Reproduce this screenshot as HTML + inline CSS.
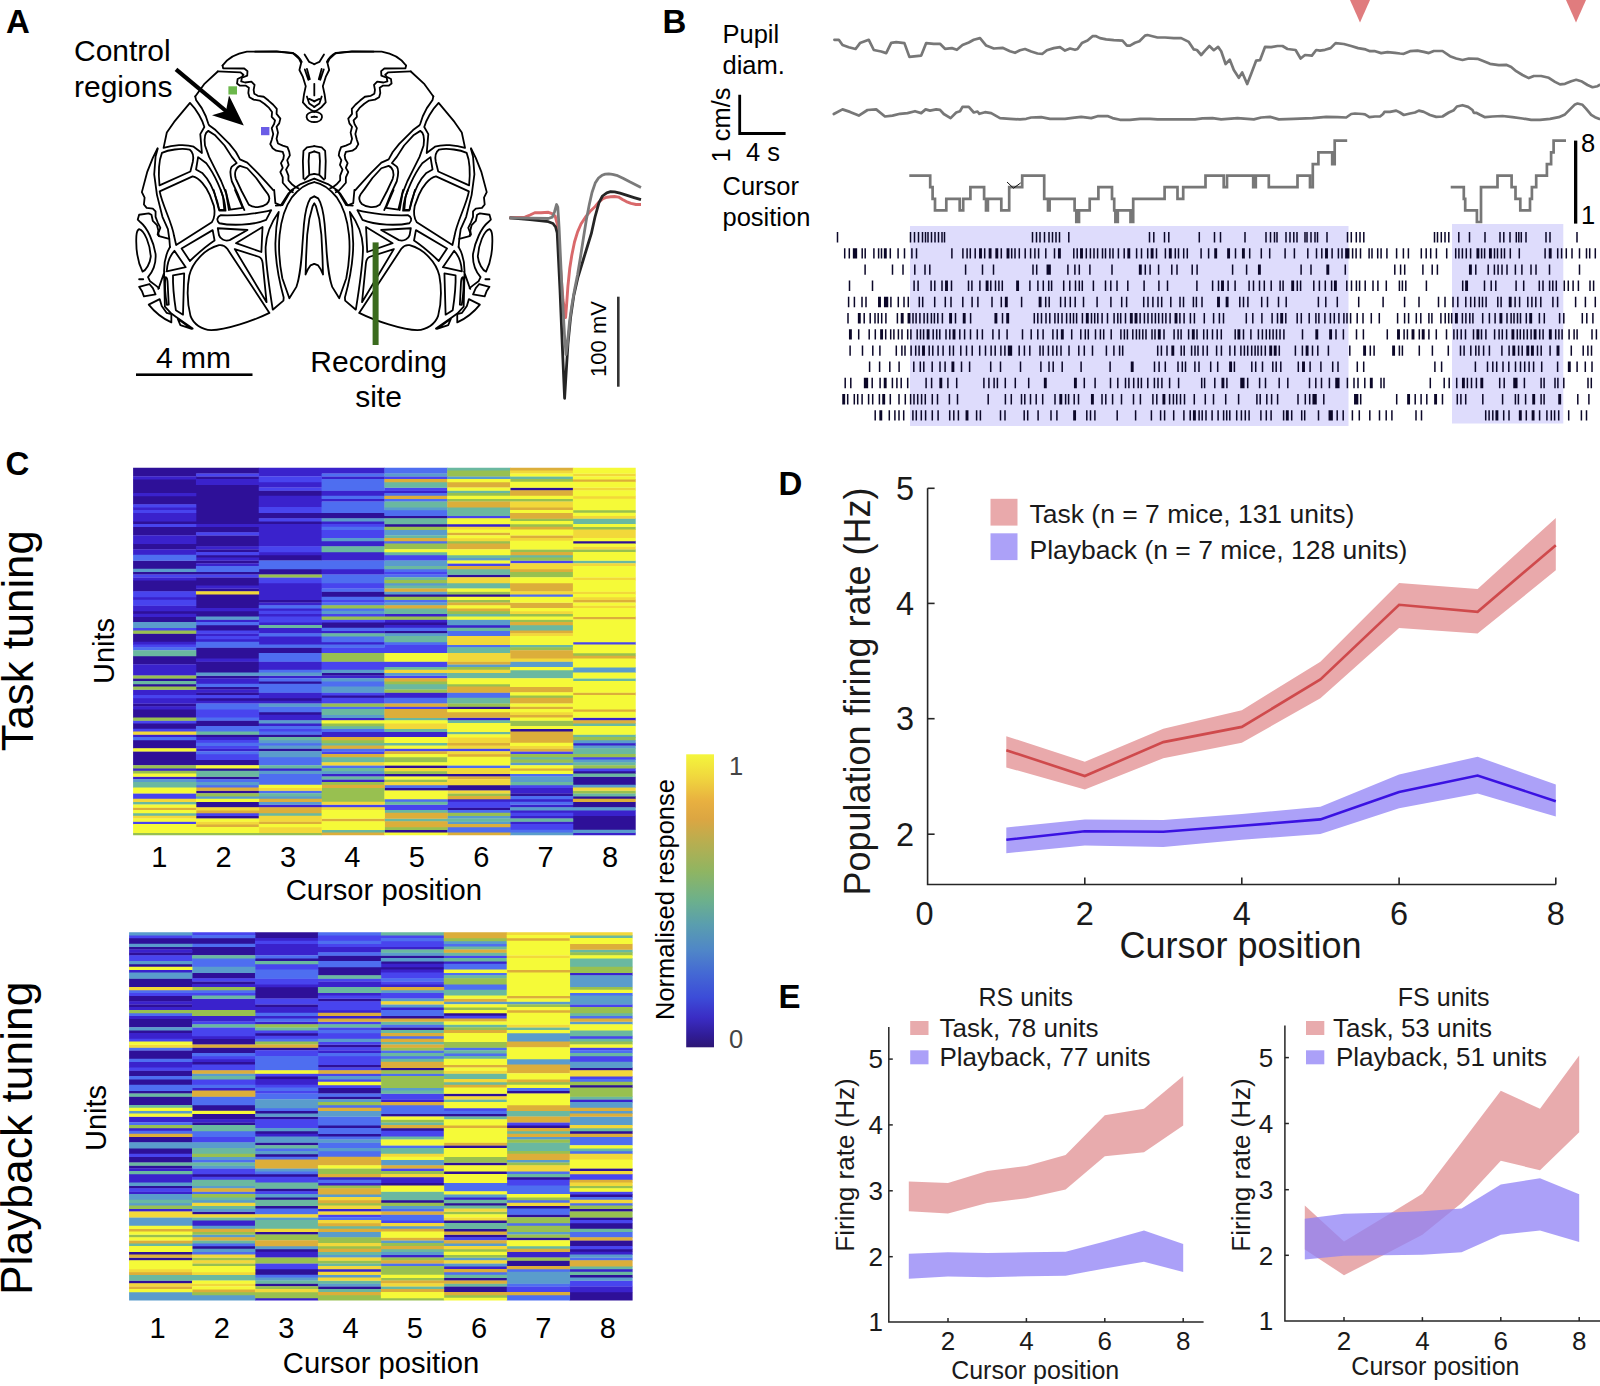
<!DOCTYPE html>
<html><head><meta charset="utf-8"><title>Figure</title>
<style>html,body{margin:0;padding:0;background:#fff}svg{display:block}text{font-family:"Liberation Sans", sans-serif}</style></head>
<body><svg width="1600" height="1386" viewBox="0 0 1600 1386">
<rect width="1600" height="1386" fill="#fff"/>
<text x="6" y="33" font-size="33" text-anchor="start" font-weight="bold" fill="#000">A</text>
<text x="662.5" y="32.5" font-size="33" text-anchor="start" font-weight="bold" fill="#000">B</text>
<text x="5.5" y="475" font-size="33" text-anchor="start" font-weight="bold" fill="#000">C</text>
<text x="778.5" y="495.3" font-size="33" text-anchor="start" font-weight="bold" fill="#000">D</text>
<text x="778.5" y="1007.5" font-size="33" text-anchor="start" font-weight="bold" fill="#000">E</text>
<text x="74" y="60.5" font-size="30" text-anchor="start" font-weight="normal" fill="#000">Control</text>
<text x="74" y="97" font-size="30" text-anchor="start" font-weight="normal" fill="#000">regions</text>
<text x="193.5" y="368" font-size="30" text-anchor="middle" font-weight="normal" fill="#000">4 mm</text>
<rect x="136" y="373.4" width="116.5" height="2.6" fill="#000"/>
<text x="378.7" y="371.7" font-size="30" text-anchor="middle" font-weight="normal" fill="#000">Recording</text>
<text x="378.5" y="407.4" font-size="30" text-anchor="middle" font-weight="normal" fill="#000">site</text>
<path d="M176,69.4 L232,116" stroke="#000" stroke-width="4.2" fill="none"/>
<path d="M243.8,125.6 L212,115.3 L226,111 L229,95.6 Z" fill="#000"/>
<text x="605.5" y="339" font-size="22" text-anchor="middle" font-weight="normal" fill="#000" transform="rotate(-90 605.5 339)">100 mV</text>
<rect x="617" y="296.7" width="2.6" height="90" fill="#333"/>
<path d="M509.5,217.8 L525.0,217.2 L530.0,215.0 L534.8,212.7 L541.0,212.8 L548.4,212.3 L552.0,213.6 L555.2,216.2 L557.2,224.0 L560.0,262.0 L563.0,300.0 L565.6,317.5 L566.6,305.0 L567.9,286.3 L569.8,268.0 L571.8,255.2 L574.5,242.0 L577.6,231.8 L581.0,224.0 L585.4,217.2 L590.0,211.5 L595.2,206.5 L599.0,202.0 L603.0,198.7 L607.0,197.2 L610.7,196.7 L614.5,196.5 L618.5,197.1 L622.5,199.5 L626.3,201.6 L631.0,203.4 L636.0,204.5 L641.0,204.5" stroke="#d9696b" stroke-width="2.9" fill="none" stroke-linejoin="round"/>
<path d="M509.5,217.8 L530.0,219.5 L548.4,221.7 L553.0,223.5 L555.6,227.0 L557.2,233.0 L560.0,290.0 L562.5,350.0 L564.6,398.3 L566.2,372.0 L567.9,344.7 L570.5,318.0 L573.7,296.0 L578.0,277.0 L583.5,259.0 L587.5,246.0 L591.3,233.7 L595.0,217.0 L599.0,202.6 L602.5,196.0 L606.8,192.8 L610.5,191.7 L614.6,191.9 L620.0,193.2 L626.3,195.2 L634.0,197.6 L641.0,199.7" stroke="#252525" stroke-width="2.8" fill="none" stroke-linejoin="round"/>
<path d="M509.5,217.8 L530.0,218.2 L548.4,218.5 L552.3,217.2 L554.5,212.0 L556.6,204.5 L557.8,207.0 L559.1,227.9 L562.0,290.0 L564.5,335.0 L566.0,354.5 L567.3,345.0 L569.5,322.0 L571.8,305.8 L574.5,290.0 L577.6,274.6 L580.5,257.0 L583.5,237.6 L586.3,220.0 L589.3,204.5 L592.0,192.5 L595.2,183.1 L598.5,178.0 L602.0,175.3 L605.3,174.1 L608.8,173.8 L612.5,174.3 L616.6,175.3 L623.0,178.3 L630.2,182.1 L641.0,187.4" stroke="#7a7a7a" stroke-width="2.8" fill="none" stroke-linejoin="round"/>
<g fill="none" stroke="#000" stroke-linejoin="round" stroke-linecap="round">
<path transform="translate(140,40) scale(0.11875)" d="M695,215 C730,165 800,115 900,98 L1150,95 L1285,108 C1320,125 1345,150 1362,185" stroke-width="15.16"/>
<path transform="translate(140,40) scale(0.11875)" d="M695,215 L700,238 L878,240 L905,262 L903,300 L858,318 L852,348 L885,358 L938,350 L965,378 L957,420 L962,452 L992,470 L1042,478 L1082,510 L1122,545 L1152,580 L1150,622 L1182,662 L1172,702 L1150,730 L1162,780 L1150,832 L1162,872 L1202,890 L1242,902 L1257,942 L1262,972 L1240,1012 L1252,1052 L1230,1092 L1250,1142 L1250,1182 L1282,1217 L1312,1240 L1335,1250" stroke-width="15.16"/>
<path transform="translate(140,40) scale(0.11875)" d="M655,265 L845,272 L871,292 L859,310 L822,329 L817,367 L842,385 L892,385 L917,402 L912,447 L922,482 L957,502 L1007,510 L1047,537 L1087,572 L1112,607 L1109,647 L1137,677 L1129,707 L1109,742 L1122,792 L1109,842 L1097,877 L1117,912 L1147,932 L1202,942 L1212,972 L1207,1002 L1187,1037 L1202,1077 L1182,1112 L1202,1157 L1202,1202 L1237,1242 L1262,1269 L1287,1282" stroke-width="15.16"/>
<path transform="translate(140,40) scale(0.11875)" d="M655,265 L540,372 L465,475" stroke-width="15.16"/>
<path transform="translate(140,100) scale(0.08125)" d="M615,35 L420,270 L330,400 L290,590 C400,555 560,540 660,575 L762,652 L742,420 L792,332 C770,250 700,120 615,35Z" stroke-width="22.15"/>
<path transform="translate(140,100) scale(0.08125)" d="M680,-44 L690,0 L760,100 L810,200 L840,290 L850,310 L930,370 L1100,540 L1180,640 L1230,730 L1320,770 L1450,900 L1560,1020 L1640,1110" stroke-width="22.15"/>
<path transform="translate(140,100) scale(0.08125)" d="M840,380 C800,400 788,470 800,560 L850,700 L930,860 L1000,1000 L1060,1150 L1095,1354 M840,380 L920,430 L1040,560 L1130,700 L1190,775 L1130,820 C1105,850 1105,900 1130,1000 L1200,1150 L1260,1300 L1285,1354" stroke-width="22.15"/>
<path transform="translate(140,100) scale(0.08125)" d="M1230,810 C1180,830 1155,900 1180,970 L1250,1120 L1340,1290 C1400,1335 1500,1325 1560,1280 C1600,1240 1600,1200 1575,1160 L1530,1100 L1430,960 L1320,840 Z" stroke-width="22.15"/>
<path transform="translate(140,100) scale(0.08125)" d="M270,650 C350,615 500,590 610,610 C650,640 662,700 650,760 L620,880 L240,1050 C225,900 235,740 270,650Z" stroke-width="22.15"/>
<path transform="translate(135,140) scale(0.13717)" d="M180,375 L420,265 C470,275 520,340 545,400 L575,480 C585,530 580,570 560,600 L300,765 L285,700 C270,600 200,480 180,375Z" stroke-width="13.12"/>
<path transform="translate(135,140) scale(0.13717)" d="M460,125 L445,215 L490,240 C540,290 580,380 600,450 L615,515 L660,515 L655,470 C640,380 580,250 520,170 Z" stroke-width="13.12"/>
<path transform="translate(135,140) scale(0.13717)" d="M165,60 L130,130 L90,230 L50,380 L70,420 L65,470 L85,495 L130,500 L150,520 L150,560 L165,600 L185,640 L170,680 L175,700 L250,720 L255,780" stroke-width="13.12"/>
<path transform="translate(135,140) scale(0.13717)" d="M165,65 L150,120 L140,250 L160,400 L200,560 L240,650 L250,720" stroke-width="13.12"/>
<path transform="translate(135,140) scale(0.13717)" d="M175,700 L165,690 L170,660 L160,620 L130,590 L120,545 L100,535 L30,545 L20,580 L40,600 C90,640 135,740 150,830 C155,900 130,960 95,1000 L110,1030 L150,1060 L175,1080" stroke-width="13.12"/>
<path transform="translate(135,140) scale(0.13717)" d="M30,650 C70,660 110,760 115,850 C110,900 80,950 55,960 C25,900 5,800 10,700 C12,670 20,655 30,650Z" stroke-width="13.12"/>
<path transform="translate(135,140) scale(0.13717)" d="M30,1015 L60,1015 M30,1070 L105,1050 L130,1080 L150,1125 L65,1140 L50,1100 Z" stroke-width="13.12"/>
<path transform="translate(135,140) scale(0.13717)" d="M100,1200 L180,1160 L195,1210 L230,1260 L265,1270 L265,1330 C200,1300 140,1250 100,1200Z" stroke-width="13.12"/>
<path transform="translate(135,140) scale(0.13717)" d="M255,780 C225,830 210,900 212,970 L218,1215 L265,1265 L300,1290 L420,1375 M215,960 L180,1060 L170,1085" stroke-width="13.12"/>
<path transform="translate(140,190) scale(0.11875)" d="M665,465 C540,500 440,610 415,720 C395,830 400,960 425,1060 C450,1130 520,1175 600,1180 C720,1180 960,1100 1090,1035 L735,495 C715,470 690,460 665,465Z" stroke-width="15.16"/>
<path transform="translate(140,190) scale(0.11875)" d="M798,498 L1000,562 C1022,572 1030,590 1033,615 L1066,945 Z" stroke-width="15.16"/>
<path transform="translate(140,190) scale(0.11875)" d="M808,448 L1032,312 L1022,522 Z" stroke-width="15.16"/>
<path transform="translate(140,190) scale(0.11875)" d="M655,322 L905,337 L755,422 C710,435 675,410 665,380 Z" stroke-width="15.16"/>
<path transform="translate(140,190) scale(0.11875)" d="M680,212 C800,218 1000,200 1105,170 L1062,252 C950,300 760,300 668,280 C640,255 650,225 680,212Z" stroke-width="15.16"/>
<path transform="translate(140,190) scale(0.11875)" d="M350,492 L612,338 L628,425 C560,470 480,540 420,598 Z" stroke-width="15.16"/>
<path transform="translate(140,190) scale(0.11875)" d="M290,512 L385,650 L225,685 C230,600 255,550 290,512Z" stroke-width="15.16"/>
<path transform="translate(140,190) scale(0.11875)" d="M278,718 L372,702 L362,1050 L302,1012 C285,900 275,800 278,718Z" stroke-width="15.16"/>
<path transform="translate(140,190) scale(0.11875)" d="M213,735 C228,730 232,760 233,790 L242,965 L226,968 C212,880 208,790 213,735Z" stroke-width="15.16"/>
<path transform="translate(140,190) scale(0.11875)" d="M318,1085 L435,1170 L340,1138 Z" stroke-width="15.16"/>
<path transform="translate(140,190) scale(0.11875)" d="M1168,185 C1100,280 1062,380 1058,480 C1055,600 1085,800 1118,1008 L1208,932 L1210,905 C1170,760 1140,600 1140,450 C1142,340 1155,250 1168,185Z" stroke-width="15.16"/>
<path transform="translate(140,190) scale(0.11875)" d="M620,0 L665,165 L710,170 L700,60 L680,0 M720,0 L760,165 L865,150 L800,0 M1130,0 L1140,110 L1185,130 L1250,30 L1290,0" stroke-width="15.16"/>
<path transform="translate(265,170) scale(0.10823)" d="M225,1185 L160,1000 C135,870 125,700 135,600 C150,450 200,320 250,250 C300,190 380,125 455,112 M225,1185 L290,1080 C320,1000 340,800 345,700 L360,500 C370,400 395,300 420,262 L455,244" stroke-width="16.63"/>
<path transform="translate(265,170) scale(0.10823)" d="M375,965 L380,800 L390,600 L410,450 L440,335 L455,310 M375,965 L395,920 L420,882 L455,868" stroke-width="16.63"/>
<path transform="translate(265,170) scale(0.10823)" d="M100,330 L160,325 L240,190 L330,130 L455,80" stroke-width="16.63"/>
<path transform="translate(255,40) scale(0.11538)" d="M0,100 L190,100 L330,115 L380,160 L400,200 L385,260 L415,320 L440,400 L425,470 L415,540 L450,580 L490,610 L516,620" stroke-width="15.60"/>
<path transform="translate(255,40) scale(0.11538)" d="M430,125 L470,190 L516,210 M450,250 L475,340 M432,255 L462,345 M450,490 L470,550 L516,580 M470,510 L516,532" stroke-width="15.60"/>
<path transform="translate(255,40) scale(0.11538)" d="M516,620 C470,625 445,645 447,668 C450,695 480,712 516,712 M490,668 L516,664" stroke-width="15.60"/>
<path transform="translate(255,40) scale(0.11538)" d="M420,1200 L415,1050 L420,960 L450,930 L516,920 M430,1210 L470,1170 L465,1050 L470,980 L516,965 M470,1170 L516,1160" stroke-width="15.60"/>
<path transform="translate(628.6,0) scale(-1,1) translate(140,40) scale(0.11875)" d="M695,215 C730,165 800,115 900,98 L1150,95 L1285,108 C1320,125 1345,150 1362,185" stroke-width="15.16"/>
<path transform="translate(628.6,0) scale(-1,1) translate(140,40) scale(0.11875)" d="M695,215 L700,238 L878,240 L905,262 L903,300 L858,318 L852,348 L885,358 L938,350 L965,378 L957,420 L962,452 L992,470 L1042,478 L1082,510 L1122,545 L1152,580 L1150,622 L1182,662 L1172,702 L1150,730 L1162,780 L1150,832 L1162,872 L1202,890 L1242,902 L1257,942 L1262,972 L1240,1012 L1252,1052 L1230,1092 L1250,1142 L1250,1182 L1282,1217 L1312,1240 L1335,1250" stroke-width="15.16"/>
<path transform="translate(628.6,0) scale(-1,1) translate(140,40) scale(0.11875)" d="M655,265 L845,272 L871,292 L859,310 L822,329 L817,367 L842,385 L892,385 L917,402 L912,447 L922,482 L957,502 L1007,510 L1047,537 L1087,572 L1112,607 L1109,647 L1137,677 L1129,707 L1109,742 L1122,792 L1109,842 L1097,877 L1117,912 L1147,932 L1202,942 L1212,972 L1207,1002 L1187,1037 L1202,1077 L1182,1112 L1202,1157 L1202,1202 L1237,1242 L1262,1269 L1287,1282" stroke-width="15.16"/>
<path transform="translate(628.6,0) scale(-1,1) translate(140,40) scale(0.11875)" d="M655,265 L540,372 L465,475" stroke-width="15.16"/>
<path transform="translate(628.6,0) scale(-1,1) translate(140,100) scale(0.08125)" d="M615,35 L420,270 L330,400 L290,590 C400,555 560,540 660,575 L762,652 L742,420 L792,332 C770,250 700,120 615,35Z" stroke-width="22.15"/>
<path transform="translate(628.6,0) scale(-1,1) translate(140,100) scale(0.08125)" d="M680,-44 L690,0 L760,100 L810,200 L840,290 L850,310 L930,370 L1100,540 L1180,640 L1230,730 L1320,770 L1450,900 L1560,1020 L1640,1110" stroke-width="22.15"/>
<path transform="translate(628.6,0) scale(-1,1) translate(140,100) scale(0.08125)" d="M840,380 C800,400 788,470 800,560 L850,700 L930,860 L1000,1000 L1060,1150 L1095,1354 M840,380 L920,430 L1040,560 L1130,700 L1190,775 L1130,820 C1105,850 1105,900 1130,1000 L1200,1150 L1260,1300 L1285,1354" stroke-width="22.15"/>
<path transform="translate(628.6,0) scale(-1,1) translate(140,100) scale(0.08125)" d="M1230,810 C1180,830 1155,900 1180,970 L1250,1120 L1340,1290 C1400,1335 1500,1325 1560,1280 C1600,1240 1600,1200 1575,1160 L1530,1100 L1430,960 L1320,840 Z" stroke-width="22.15"/>
<path transform="translate(628.6,0) scale(-1,1) translate(140,100) scale(0.08125)" d="M270,650 C350,615 500,590 610,610 C650,640 662,700 650,760 L620,880 L240,1050 C225,900 235,740 270,650Z" stroke-width="22.15"/>
<path transform="translate(628.6,0) scale(-1,1) translate(135,140) scale(0.13717)" d="M180,375 L420,265 C470,275 520,340 545,400 L575,480 C585,530 580,570 560,600 L300,765 L285,700 C270,600 200,480 180,375Z" stroke-width="13.12"/>
<path transform="translate(628.6,0) scale(-1,1) translate(135,140) scale(0.13717)" d="M460,125 L445,215 L490,240 C540,290 580,380 600,450 L615,515 L660,515 L655,470 C640,380 580,250 520,170 Z" stroke-width="13.12"/>
<path transform="translate(628.6,0) scale(-1,1) translate(135,140) scale(0.13717)" d="M165,60 L130,130 L90,230 L50,380 L70,420 L65,470 L85,495 L130,500 L150,520 L150,560 L165,600 L185,640 L170,680 L175,700 L250,720 L255,780" stroke-width="13.12"/>
<path transform="translate(628.6,0) scale(-1,1) translate(135,140) scale(0.13717)" d="M165,65 L150,120 L140,250 L160,400 L200,560 L240,650 L250,720" stroke-width="13.12"/>
<path transform="translate(628.6,0) scale(-1,1) translate(135,140) scale(0.13717)" d="M175,700 L165,690 L170,660 L160,620 L130,590 L120,545 L100,535 L30,545 L20,580 L40,600 C90,640 135,740 150,830 C155,900 130,960 95,1000 L110,1030 L150,1060 L175,1080" stroke-width="13.12"/>
<path transform="translate(628.6,0) scale(-1,1) translate(135,140) scale(0.13717)" d="M30,650 C70,660 110,760 115,850 C110,900 80,950 55,960 C25,900 5,800 10,700 C12,670 20,655 30,650Z" stroke-width="13.12"/>
<path transform="translate(628.6,0) scale(-1,1) translate(135,140) scale(0.13717)" d="M30,1015 L60,1015 M30,1070 L105,1050 L130,1080 L150,1125 L65,1140 L50,1100 Z" stroke-width="13.12"/>
<path transform="translate(628.6,0) scale(-1,1) translate(135,140) scale(0.13717)" d="M100,1200 L180,1160 L195,1210 L230,1260 L265,1270 L265,1330 C200,1300 140,1250 100,1200Z" stroke-width="13.12"/>
<path transform="translate(628.6,0) scale(-1,1) translate(135,140) scale(0.13717)" d="M255,780 C225,830 210,900 212,970 L218,1215 L265,1265 L300,1290 L420,1375 M215,960 L180,1060 L170,1085" stroke-width="13.12"/>
<path transform="translate(628.6,0) scale(-1,1) translate(140,190) scale(0.11875)" d="M665,465 C540,500 440,610 415,720 C395,830 400,960 425,1060 C450,1130 520,1175 600,1180 C720,1180 960,1100 1090,1035 L735,495 C715,470 690,460 665,465Z" stroke-width="15.16"/>
<path transform="translate(628.6,0) scale(-1,1) translate(140,190) scale(0.11875)" d="M798,498 L1000,562 C1022,572 1030,590 1033,615 L1066,945 Z" stroke-width="15.16"/>
<path transform="translate(628.6,0) scale(-1,1) translate(140,190) scale(0.11875)" d="M808,448 L1032,312 L1022,522 Z" stroke-width="15.16"/>
<path transform="translate(628.6,0) scale(-1,1) translate(140,190) scale(0.11875)" d="M655,322 L905,337 L755,422 C710,435 675,410 665,380 Z" stroke-width="15.16"/>
<path transform="translate(628.6,0) scale(-1,1) translate(140,190) scale(0.11875)" d="M680,212 C800,218 1000,200 1105,170 L1062,252 C950,300 760,300 668,280 C640,255 650,225 680,212Z" stroke-width="15.16"/>
<path transform="translate(628.6,0) scale(-1,1) translate(140,190) scale(0.11875)" d="M350,492 L612,338 L628,425 C560,470 480,540 420,598 Z" stroke-width="15.16"/>
<path transform="translate(628.6,0) scale(-1,1) translate(140,190) scale(0.11875)" d="M290,512 L385,650 L225,685 C230,600 255,550 290,512Z" stroke-width="15.16"/>
<path transform="translate(628.6,0) scale(-1,1) translate(140,190) scale(0.11875)" d="M278,718 L372,702 L362,1050 L302,1012 C285,900 275,800 278,718Z" stroke-width="15.16"/>
<path transform="translate(628.6,0) scale(-1,1) translate(140,190) scale(0.11875)" d="M213,735 C228,730 232,760 233,790 L242,965 L226,968 C212,880 208,790 213,735Z" stroke-width="15.16"/>
<path transform="translate(628.6,0) scale(-1,1) translate(140,190) scale(0.11875)" d="M318,1085 L435,1170 L340,1138 Z" stroke-width="15.16"/>
<path transform="translate(628.6,0) scale(-1,1) translate(140,190) scale(0.11875)" d="M1168,185 C1100,280 1062,380 1058,480 C1055,600 1085,800 1118,1008 L1208,932 L1210,905 C1170,760 1140,600 1140,450 C1142,340 1155,250 1168,185Z" stroke-width="15.16"/>
<path transform="translate(628.6,0) scale(-1,1) translate(140,190) scale(0.11875)" d="M620,0 L665,165 L710,170 L700,60 L680,0 M720,0 L760,165 L865,150 L800,0 M1130,0 L1140,110 L1185,130 L1250,30 L1290,0" stroke-width="15.16"/>
<path transform="translate(628.6,0) scale(-1,1) translate(265,170) scale(0.10823)" d="M225,1185 L160,1000 C135,870 125,700 135,600 C150,450 200,320 250,250 C300,190 380,125 455,112 M225,1185 L290,1080 C320,1000 340,800 345,700 L360,500 C370,400 395,300 420,262 L455,244" stroke-width="16.63"/>
<path transform="translate(628.6,0) scale(-1,1) translate(265,170) scale(0.10823)" d="M375,965 L380,800 L390,600 L410,450 L440,335 L455,310 M375,965 L395,920 L420,882 L455,868" stroke-width="16.63"/>
<path transform="translate(628.6,0) scale(-1,1) translate(265,170) scale(0.10823)" d="M100,330 L160,325 L240,190 L330,130 L455,80" stroke-width="16.63"/>
<path transform="translate(628.6,0) scale(-1,1) translate(255,40) scale(0.11538)" d="M0,100 L190,100 L330,115 L380,160 L400,200 L385,260 L415,320 L440,400 L425,470 L415,540 L450,580 L490,610 L516,620" stroke-width="15.60"/>
<path transform="translate(628.6,0) scale(-1,1) translate(255,40) scale(0.11538)" d="M430,125 L470,190 L516,210 M450,250 L475,340 M432,255 L462,345 M450,490 L470,550 L516,580 M470,510 L516,532" stroke-width="15.60"/>
<path transform="translate(628.6,0) scale(-1,1) translate(255,40) scale(0.11538)" d="M516,620 C470,625 445,645 447,668 C450,695 480,712 516,712 M490,668 L516,664" stroke-width="15.60"/>
<path transform="translate(628.6,0) scale(-1,1) translate(255,40) scale(0.11538)" d="M420,1200 L415,1050 L420,960 L450,930 L516,920 M430,1210 L470,1170 L465,1050 L470,980 L516,965 M470,1170 L516,1160" stroke-width="15.60"/>
<path transform="translate(255,40) scale(0.11538)" d="M514,380 L514,480" stroke-width="15.60"/>
</g>
<rect x="372.6" y="242.4" width="6" height="102.6" fill="#3b6b1e"/>
<rect x="228.4" y="86.3" width="8.6" height="8.2" fill="#6cb84c"/>
<rect x="261" y="127" width="8.4" height="8.2" fill="#6a5ce6"/>
<text x="722.5" y="42.75" font-size="25.5" text-anchor="start" font-weight="normal" fill="#000">Pupil</text>
<text x="722.5" y="74" font-size="25.5" text-anchor="start" font-weight="normal" fill="#000">diam.</text>
<text x="722.5" y="195" font-size="25.5" text-anchor="start" font-weight="normal" fill="#000">Cursor</text>
<text x="722.5" y="226" font-size="25.5" text-anchor="start" font-weight="normal" fill="#000">position</text>
<text x="746" y="161" font-size="25.5" text-anchor="start" font-weight="normal" fill="#000">4 s</text>
<text x="729.5" y="162.5" font-size="25.5" text-anchor="start" font-weight="normal" fill="#000" transform="rotate(-90 729.5 162.5)">1 cm/s</text>
<path d="M739.7,94.7 V133.5 H785.6" stroke="#000" stroke-width="2.8" fill="none"/>
<path d="M1350,0 L1370,0 L1360,22.5 Z" fill="#e07c7e"/>
<path d="M1566,0 L1586,0 L1576,22.5 Z" fill="#e07c7e"/>
<path d="M834.4,39.8 L838.8,39.8 L842.5,45.0 L848.8,47.2 L855.6,49.0 L860.0,43.1 L868.8,39.8 L873.8,50.0 L881.2,51.5 L886.2,53.1 L891.2,42.8 L896.2,42.2 L904.4,43.1 L909.4,56.9 L921.2,55.6 L926.2,43.1 L933.8,43.8 L940.0,43.8 L945.0,48.8 L951.9,48.1 L956.9,49.8 L962.5,45.0 L968.8,42.5 L973.8,39.8 L980.0,38.1 L986.2,45.6 L993.8,48.5 L1002.5,47.8 L1010.0,51.2 L1015.0,52.8 L1020.0,50.2 L1025.0,49.0 L1031.2,51.5 L1037.5,53.5 L1042.5,53.8 L1046.9,50.2 L1053.8,48.1 L1060.0,47.2 L1065.0,50.6 L1070.0,48.5 L1075.0,49.8 L1077.5,49.0 L1081.9,43.1 L1087.5,40.6 L1092.5,36.2 L1095.6,36.0 L1100.0,38.1 L1106.2,39.4 L1113.8,40.2 L1122.5,40.6 L1126.9,45.6 L1130.0,45.6 L1135.0,42.8 L1139.4,41.2 L1145.0,35.6 L1147.5,35.0 L1152.5,36.2 L1157.5,37.5 L1165.0,37.5 L1173.8,38.1 L1181.2,38.1 L1188.8,41.9 L1193.8,49.4 L1196.9,50.0 L1201.2,55.0 L1205.0,50.6 L1209.4,46.0 L1213.8,50.2 L1218.1,46.9 L1221.2,51.2 L1225.6,64.0 L1229.8,59.8 L1233.8,70.0 L1238.8,77.8 L1242.2,72.5 L1247.2,84.0 L1251.2,73.8 L1256.2,60.6 L1260.0,60.2 L1265.0,46.9 L1271.2,47.2 L1277.5,46.0 L1282.5,46.0 L1287.5,49.0 L1295.6,50.0 L1300.6,58.5 L1305.0,55.0 L1311.9,55.6 L1316.2,50.0 L1320.0,50.6 L1325.0,49.8 L1330.6,48.1 L1335.6,43.1 L1343.8,44.0 L1351.2,46.0 L1358.1,48.1 L1365.6,49.4 L1370.0,51.2 L1374.4,51.0 L1381.2,53.1 L1387.5,52.2 L1395.0,52.8 L1400.0,53.5 L1403.8,53.8 L1410.0,51.2 L1417.5,50.6 L1423.8,51.9 L1428.8,53.1 L1433.8,51.0 L1442.5,51.0 L1450.0,56.2 L1456.2,58.5 L1462.5,60.0 L1468.8,58.5 L1477.5,58.8 L1483.8,61.2 L1490.0,63.8 L1498.8,65.2 L1506.2,64.8 L1511.2,66.9 L1516.2,71.2 L1522.5,75.0 L1528.8,78.1 L1533.8,76.0 L1541.2,76.0 L1548.8,77.8 L1555.0,81.9 L1560.0,84.4 L1565.0,83.8 L1571.2,81.2 L1576.2,79.8 L1581.2,81.2 L1587.5,85.0 L1592.5,87.2 L1597.5,86.2 L1599.5,85.0" stroke="#777" stroke-width="2.7" fill="none" stroke-linejoin="round" stroke-linecap="round"/>
<path d="M833.8,114.0 L842.5,109.4 L850.0,111.9 L858.8,115.6 L867.5,110.0 L876.2,109.4 L885.0,116.5 L892.5,115.6 L900.0,113.8 L907.5,113.1 L915.0,111.2 L921.2,113.1 L925.6,109.4 L930.0,110.6 L936.2,109.4 L940.0,109.8 L943.8,114.0 L950.6,118.1 L956.2,112.5 L960.0,111.2 L962.5,106.9 L968.8,106.9 L973.8,112.5 L977.5,111.5 L979.4,113.8 L985.0,112.2 L991.2,113.1 L1000.0,118.1 L1010.0,118.8 L1020.0,119.4 L1026.2,118.8 L1031.2,117.5 L1041.2,117.2 L1050.0,118.8 L1065.0,118.8 L1072.5,117.8 L1081.2,116.9 L1091.2,118.1 L1097.5,116.2 L1107.5,116.0 L1112.5,118.1 L1120.0,119.8 L1130.0,119.8 L1140.0,118.8 L1150.0,118.8 L1157.5,119.4 L1170.0,119.4 L1195.0,119.4 L1202.5,118.4 L1212.5,118.1 L1221.2,119.4 L1237.5,118.1 L1253.8,119.4 L1261.2,117.5 L1270.0,116.9 L1278.8,119.4 L1293.8,118.8 L1312.5,118.1 L1326.2,116.9 L1337.5,117.2 L1346.2,117.5 L1351.2,114.0 L1355.0,113.5 L1362.5,114.0 L1365.0,114.4 L1369.4,117.2 L1375.0,116.5 L1380.0,116.5 L1383.1,114.0 L1384.4,111.9 L1390.0,111.9 L1396.2,110.6 L1400.0,112.5 L1403.8,115.0 L1410.0,113.5 L1415.0,112.5 L1418.8,110.6 L1423.8,111.9 L1430.0,115.0 L1436.2,116.9 L1442.5,116.5 L1448.8,112.5 L1453.8,110.2 L1456.9,106.5 L1462.5,105.2 L1468.1,106.9 L1472.5,110.0 L1473.8,112.8 L1476.2,112.8 L1480.0,114.8 L1485.0,117.2 L1492.5,116.5 L1502.5,116.0 L1512.5,117.2 L1522.5,118.5 L1531.2,119.8 L1540.0,119.8 L1550.0,118.8 L1558.8,117.2 L1565.0,114.4 L1570.0,109.4 L1575.0,104.4 L1577.5,103.5 L1582.5,104.8 L1586.2,108.8 L1591.2,114.8 L1595.0,117.2 L1599.5,118.9" stroke="#777" stroke-width="2.7" fill="none" stroke-linejoin="round" stroke-linecap="round"/>
<path d="M909.3,175.7 H930.2 V187.2 H932.6 V198.8 H935 V210.4 H946.3 V198.8 H959.7 V210.4 H963.2 V198.8 H970.4 V187.2 H984.1 V198.8 H986 V210.4 H987.9 V198.8 H1001.3 V210.4 H1009.2 V187.2 H1022.2 V175.7 H1044.2 V198.8 H1048 V210.4 H1049.6 V198.8 H1074.6 V210.4 H1076.3 V222.0 H1079 V210.4 H1089.7 V198.8 H1098.4 V187.2 H1112 V198.8 H1114.2 V210.4 H1115.4 V222.0 H1117.8 V210.4 H1130.5 V222.0 H1133.2 V198.8 H1164.6 V187.2 H1177.5 V198.8 H1183.2 V187.2 H1205.5 V175.7 H1223.7 V187.2 H1227 V175.7 H1253.2 V187.2 H1255.8 V175.7 H1268.8 V187.2 H1297.5 V175.7 H1310 V187.2 H1312.8 V164.1 H1318.4 V152.4 H1332.2 V164.1 H1334.7 V140.6 H1347.2" stroke="#777" stroke-width="2.7" fill="none" stroke-linejoin="miter"/>
<path d="M1450.7,187.2 H1463.8 V198.8 H1465.2 V210.4 H1476.9 V222.0 H1481 V187.2 H1497.5 V175.7 H1511.6 V187.2 H1515.5 V198.8 H1520.3 V210.4 H1530 V198.8 H1531.9 V187.2 H1536.2 V175.7 H1546.9 V164.1 H1551.1 V152.4 H1553.6 V140.6 H1566" stroke="#777" stroke-width="2.7" fill="none" stroke-linejoin="miter"/>
<path d="M1007,182 L1013.5,188.2 L1020.7,182.9" stroke="#111" stroke-width="1" fill="none"/>
<rect x="1574" y="140.6" width="3.3" height="83" fill="#000"/>
<text x="1581" y="152" font-size="25.5" text-anchor="start" font-weight="normal" fill="#000">8</text>
<text x="1581" y="223.5" font-size="25.5" text-anchor="start" font-weight="normal" fill="#000">1</text>
<rect x="910" y="226" width="438.5" height="200" fill="#dedcfc"/>
<rect x="1452" y="224" width="111.3" height="199.5" fill="#dedcfc"/>
<path d="M837.5,232.0v10.4M910.5,232.0v10.4M914.5,232.0v10.4M918.5,232.0v10.4M922.5,232.0v10.4M925.5,232.0v10.4M928.0,232.0v10.4M931.5,232.0v10.4M935.0,232.0v10.4M938.5,232.0v10.4M942.0,232.0v10.4M944.5,232.0v10.4M1032.5,232.0v10.4M1036.5,232.0v10.4M1040.0,232.0v10.4M1044.5,232.0v10.4M1049.0,232.0v10.4M1052.5,232.0v10.4M1056.0,232.0v10.4M1059.5,232.0v10.4M1068.8,232.0v10.4M1149.5,232.0v10.4M1153.8,232.0v10.4M1164.5,232.0v10.4M1168.8,232.0v10.4M1199.3,232.0v10.4M1214.5,232.0v10.4M1220.5,232.0v10.4M1245.0,232.0v10.4M1266.0,232.0v10.4M1270.5,232.0v10.4M1274.5,232.0v10.4M1277.0,232.0v10.4M1286.0,232.0v10.4M1290.0,232.0v10.4M1293.8,232.0v10.4M1297.0,232.0v10.4M1305.0,232.0v10.4M1307.0,232.0v10.4M1311.0,232.0v10.4M1315.0,232.0v10.4M1317.5,232.0v10.4M1327.0,232.0v10.4M1347.5,232.0v10.4M1351.3,232.0v10.4M1356.3,232.0v10.4M1360.0,232.0v10.4M1363.8,232.0v10.4M1434.5,232.0v10.4M1437.5,232.0v10.4M1441.3,232.0v10.4M1445.0,232.0v10.4M1448.8,232.0v10.4M1458.8,232.0v10.4M1469.5,232.0v10.4M1485.0,232.0v10.4M1500.0,232.0v10.4M1503.8,232.0v10.4M1510.0,232.0v10.4M1516.3,232.0v10.4M1518.8,232.0v10.4M1521.3,232.0v10.4M1526.0,232.0v10.4M1546.0,232.0v10.4M1550.0,232.0v10.4M1577.0,232.0v10.4M844.7,248.2v10.4M849.3,248.2v10.4M853.6,248.2v10.4M855.0,248.2v10.4M856.4,248.2v10.4M862.2,248.2v10.4M865.2,248.2v10.4M873.9,248.2v10.4M878.6,248.2v10.4M881.5,248.2v10.4M884.6,248.2v10.4M886.0,248.2v10.4M890.3,248.2v10.4M898.1,248.2v10.4M904.5,248.2v10.4M911.9,248.2v10.4M916.5,248.2v10.4M951.9,248.2v10.4M962.9,248.2v10.4M967.1,248.2v10.4M970.3,248.2v10.4M975.2,248.2v10.4M979.8,248.2v10.4M981.2,248.2v10.4M984.7,248.2v10.4M989.4,248.2v10.4M990.8,248.2v10.4M996.1,248.2v10.4M997.5,248.2v10.4M1001.3,248.2v10.4M1007.3,248.2v10.4M1008.7,248.2v10.4M1011.7,248.2v10.4M1015.0,248.2v10.4M1019.3,248.2v10.4M1025.2,248.2v10.4M1030.6,248.2v10.4M1034.9,248.2v10.4M1038.6,248.2v10.4M1045.8,248.2v10.4M1054.5,248.2v10.4M1058.7,248.2v10.4M1060.1,248.2v10.4M1073.8,248.2v10.4M1077.2,248.2v10.4M1080.8,248.2v10.4M1082.2,248.2v10.4M1086.3,248.2v10.4M1090.4,248.2v10.4M1094.0,248.2v10.4M1097.6,248.2v10.4M1102.5,248.2v10.4M1105.5,248.2v10.4M1109.9,248.2v10.4M1113.0,248.2v10.4M1118.4,248.2v10.4M1124.2,248.2v10.4M1128.1,248.2v10.4M1129.5,248.2v10.4M1136.6,248.2v10.4M1141.5,248.2v10.4M1147.7,248.2v10.4M1151.4,248.2v10.4M1152.8,248.2v10.4M1156.5,248.2v10.4M1165.4,248.2v10.4M1169.6,248.2v10.4M1171.0,248.2v10.4M1175.3,248.2v10.4M1178.5,248.2v10.4M1183.7,248.2v10.4M1187.3,248.2v10.4M1201.1,248.2v10.4M1208.6,248.2v10.4M1215.0,248.2v10.4M1216.4,248.2v10.4M1227.9,248.2v10.4M1229.3,248.2v10.4M1235.5,248.2v10.4M1242.7,248.2v10.4M1244.1,248.2v10.4M1249.7,248.2v10.4M1261.3,248.2v10.4M1269.7,248.2v10.4M1285.1,248.2v10.4M1294.4,248.2v10.4M1307.8,248.2v10.4M1316.5,248.2v10.4M1321.8,248.2v10.4M1325.8,248.2v10.4M1327.2,248.2v10.4M1332.1,248.2v10.4M1338.4,248.2v10.4M1342.0,248.2v10.4M1345.9,248.2v10.4M1347.3,248.2v10.4M1348.7,248.2v10.4M1352.6,248.2v10.4M1356.1,248.2v10.4M1360.5,248.2v10.4M1369.1,248.2v10.4M1372.0,248.2v10.4M1377.7,248.2v10.4M1381.1,248.2v10.4M1386.9,248.2v10.4M1396.6,248.2v10.4M1403.4,248.2v10.4M1408.4,248.2v10.4M1421.3,248.2v10.4M1426.2,248.2v10.4M1430.7,248.2v10.4M1436.4,248.2v10.4M1446.7,248.2v10.4M1455.7,248.2v10.4M1458.9,248.2v10.4M1462.4,248.2v10.4M1466.3,248.2v10.4M1470.6,248.2v10.4M1477.2,248.2v10.4M1478.6,248.2v10.4M1481.6,248.2v10.4M1484.6,248.2v10.4M1489.7,248.2v10.4M1491.1,248.2v10.4M1494.5,248.2v10.4M1497.5,248.2v10.4M1501.4,248.2v10.4M1504.5,248.2v10.4M1510.3,248.2v10.4M1519.3,248.2v10.4M1545.1,248.2v10.4M1549.5,248.2v10.4M1550.9,248.2v10.4M1557.7,248.2v10.4M1561.6,248.2v10.4M1566.3,248.2v10.4M1572.0,248.2v10.4M1579.5,248.2v10.4M1586.5,248.2v10.4M1589.7,248.2v10.4M1595.3,248.2v10.4M865.1,264.4v10.4M892.5,264.4v10.4M903.0,264.4v10.4M914.8,264.4v10.4M925.0,264.4v10.4M929.8,264.4v10.4M965.6,264.4v10.4M982.5,264.4v10.4M993.5,264.4v10.4M1033.0,264.4v10.4M1036.7,264.4v10.4M1047.3,264.4v10.4M1048.7,264.4v10.4M1050.1,264.4v10.4M1067.9,264.4v10.4M1074.9,264.4v10.4M1079.3,264.4v10.4M1089.9,264.4v10.4M1112.0,264.4v10.4M1139.6,264.4v10.4M1141.0,264.4v10.4M1145.3,264.4v10.4M1150.1,264.4v10.4M1158.6,264.4v10.4M1171.8,264.4v10.4M1177.0,264.4v10.4M1192.2,264.4v10.4M1197.1,264.4v10.4M1232.6,264.4v10.4M1246.6,264.4v10.4M1258.7,264.4v10.4M1260.1,264.4v10.4M1301.1,264.4v10.4M1311.0,264.4v10.4M1327.1,264.4v10.4M1328.5,264.4v10.4M1345.3,264.4v10.4M1394.8,264.4v10.4M1400.6,264.4v10.4M1404.7,264.4v10.4M1422.9,264.4v10.4M1432.2,264.4v10.4M1437.4,264.4v10.4M1469.7,264.4v10.4M1471.1,264.4v10.4M1475.8,264.4v10.4M1488.2,264.4v10.4M1494.4,264.4v10.4M1498.1,264.4v10.4M1502.0,264.4v10.4M1507.0,264.4v10.4M1515.4,264.4v10.4M1521.9,264.4v10.4M1531.0,264.4v10.4M1536.0,264.4v10.4M1549.5,264.4v10.4M1579.5,264.4v10.4M849.5,280.6v10.4M872.5,280.6v10.4M914.1,280.6v10.4M918.1,280.6v10.4M931.1,280.6v10.4M934.8,280.6v10.4M942.0,280.6v10.4M945.8,280.6v10.4M947.2,280.6v10.4M951.5,280.6v10.4M968.5,280.6v10.4M971.9,280.6v10.4M979.9,280.6v10.4M986.4,280.6v10.4M987.8,280.6v10.4M990.8,280.6v10.4M995.5,280.6v10.4M998.9,280.6v10.4M1002.3,280.6v10.4M1016.9,280.6v10.4M1018.3,280.6v10.4M1029.9,280.6v10.4M1037.9,280.6v10.4M1043.3,280.6v10.4M1048.7,280.6v10.4M1051.6,280.6v10.4M1063.7,280.6v10.4M1069.8,280.6v10.4M1075.5,280.6v10.4M1079.3,280.6v10.4M1082.3,280.6v10.4M1093.4,280.6v10.4M1105.5,280.6v10.4M1110.8,280.6v10.4M1117.0,280.6v10.4M1127.8,280.6v10.4M1144.1,280.6v10.4M1158.9,280.6v10.4M1167.5,280.6v10.4M1196.9,280.6v10.4M1212.6,280.6v10.4M1218.5,280.6v10.4M1221.8,280.6v10.4M1223.2,280.6v10.4M1228.1,280.6v10.4M1235.1,280.6v10.4M1249.1,280.6v10.4M1253.5,280.6v10.4M1259.5,280.6v10.4M1264.3,280.6v10.4M1271.2,280.6v10.4M1280.1,280.6v10.4M1283.1,280.6v10.4M1292.0,280.6v10.4M1293.4,280.6v10.4M1297.3,280.6v10.4M1300.6,280.6v10.4M1313.8,280.6v10.4M1319.4,280.6v10.4M1325.3,280.6v10.4M1331.6,280.6v10.4M1334.7,280.6v10.4M1336.1,280.6v10.4M1346.8,280.6v10.4M1351.5,280.6v10.4M1356.4,280.6v10.4M1359.6,280.6v10.4M1365.2,280.6v10.4M1373.0,280.6v10.4M1377.9,280.6v10.4M1386.3,280.6v10.4M1399.4,280.6v10.4M1402.4,280.6v10.4M1405.8,280.6v10.4M1426.4,280.6v10.4M1462.7,280.6v10.4M1465.9,280.6v10.4M1467.3,280.6v10.4M1484.5,280.6v10.4M1491.2,280.6v10.4M1495.8,280.6v10.4M1516.1,280.6v10.4M1523.7,280.6v10.4M1539.3,280.6v10.4M1543.0,280.6v10.4M1549.6,280.6v10.4M1552.8,280.6v10.4M1556.3,280.6v10.4M1564.3,280.6v10.4M1568.3,280.6v10.4M1573.1,280.6v10.4M1578.4,280.6v10.4M1590.0,280.6v10.4M1593.6,280.6v10.4M848.6,296.8v10.4M854.4,296.8v10.4M862.0,296.8v10.4M866.0,296.8v10.4M878.8,296.8v10.4M880.2,296.8v10.4M884.7,296.8v10.4M886.1,296.8v10.4M887.5,296.8v10.4M890.9,296.8v10.4M898.3,296.8v10.4M904.0,296.8v10.4M908.3,296.8v10.4M919.3,296.8v10.4M922.7,296.8v10.4M934.7,296.8v10.4M945.3,296.8v10.4M951.0,296.8v10.4M962.8,296.8v10.4M972.1,296.8v10.4M977.9,296.8v10.4M992.0,296.8v10.4M1001.3,296.8v10.4M1005.6,296.8v10.4M1007.0,296.8v10.4M1021.6,296.8v10.4M1039.4,296.8v10.4M1040.8,296.8v10.4M1045.7,296.8v10.4M1049.2,296.8v10.4M1060.6,296.8v10.4M1065.2,296.8v10.4M1070.3,296.8v10.4M1075.2,296.8v10.4M1083.5,296.8v10.4M1097.1,296.8v10.4M1110.9,296.8v10.4M1121.7,296.8v10.4M1126.6,296.8v10.4M1143.7,296.8v10.4M1148.0,296.8v10.4M1152.9,296.8v10.4M1158.0,296.8v10.4M1161.7,296.8v10.4M1170.8,296.8v10.4M1180.0,296.8v10.4M1183.5,296.8v10.4M1193.4,296.8v10.4M1196.4,296.8v10.4M1202.0,296.8v10.4M1217.8,296.8v10.4M1219.2,296.8v10.4M1226.4,296.8v10.4M1227.8,296.8v10.4M1239.8,296.8v10.4M1243.5,296.8v10.4M1247.9,296.8v10.4M1261.7,296.8v10.4M1267.5,296.8v10.4M1278.5,296.8v10.4M1286.2,296.8v10.4M1318.4,296.8v10.4M1325.8,296.8v10.4M1337.3,296.8v10.4M1358.7,296.8v10.4M1383.1,296.8v10.4M1404.6,296.8v10.4M1419.0,296.8v10.4M1438.5,296.8v10.4M1445.0,296.8v10.4M1453.0,296.8v10.4M1457.8,296.8v10.4M1465.8,296.8v10.4M1470.7,296.8v10.4M1474.7,296.8v10.4M1479.3,296.8v10.4M1482.5,296.8v10.4M1486.1,296.8v10.4M1497.8,296.8v10.4M1501.1,296.8v10.4M1509.5,296.8v10.4M1510.9,296.8v10.4M1515.1,296.8v10.4M1519.6,296.8v10.4M1527.8,296.8v10.4M1531.9,296.8v10.4M1535.8,296.8v10.4M1540.8,296.8v10.4M1552.9,296.8v10.4M1557.6,296.8v10.4M1575.6,296.8v10.4M1585.4,296.8v10.4M1595.3,296.8v10.4M848.0,313.0v10.4M858.6,313.0v10.4M860.0,313.0v10.4M864.2,313.0v10.4M870.2,313.0v10.4M875.0,313.0v10.4M878.2,313.0v10.4M881.7,313.0v10.4M885.9,313.0v10.4M897.4,313.0v10.4M901.5,313.0v10.4M902.9,313.0v10.4M908.3,313.0v10.4M909.7,313.0v10.4M913.0,313.0v10.4M916.1,313.0v10.4M919.9,313.0v10.4M924.1,313.0v10.4M927.5,313.0v10.4M931.4,313.0v10.4M934.4,313.0v10.4M937.8,313.0v10.4M942.4,313.0v10.4M949.9,313.0v10.4M951.3,313.0v10.4M955.5,313.0v10.4M963.5,313.0v10.4M964.9,313.0v10.4M970.6,313.0v10.4M995.2,313.0v10.4M996.6,313.0v10.4M1002.5,313.0v10.4M1007.0,313.0v10.4M1008.4,313.0v10.4M1034.3,313.0v10.4M1037.8,313.0v10.4M1041.5,313.0v10.4M1046.0,313.0v10.4M1049.8,313.0v10.4M1054.9,313.0v10.4M1058.2,313.0v10.4M1062.0,313.0v10.4M1066.6,313.0v10.4M1070.3,313.0v10.4M1073.5,313.0v10.4M1076.6,313.0v10.4M1082.4,313.0v10.4M1086.6,313.0v10.4M1088.0,313.0v10.4M1091.5,313.0v10.4M1094.7,313.0v10.4M1097.8,313.0v10.4M1102.1,313.0v10.4M1107.5,313.0v10.4M1114.1,313.0v10.4M1117.8,313.0v10.4M1120.7,313.0v10.4M1125.5,313.0v10.4M1130.6,313.0v10.4M1132.0,313.0v10.4M1135.3,313.0v10.4M1136.7,313.0v10.4M1140.1,313.0v10.4M1144.4,313.0v10.4M1148.0,313.0v10.4M1151.9,313.0v10.4M1155.4,313.0v10.4M1158.7,313.0v10.4M1162.5,313.0v10.4M1165.9,313.0v10.4M1170.1,313.0v10.4M1175.3,313.0v10.4M1176.7,313.0v10.4M1179.9,313.0v10.4M1184.1,313.0v10.4M1190.4,313.0v10.4M1194.4,313.0v10.4M1204.3,313.0v10.4M1213.6,313.0v10.4M1219.4,313.0v10.4M1223.5,313.0v10.4M1246.3,313.0v10.4M1252.8,313.0v10.4M1261.9,313.0v10.4M1272.1,313.0v10.4M1277.5,313.0v10.4M1281.0,313.0v10.4M1282.4,313.0v10.4M1285.8,313.0v10.4M1297.2,313.0v10.4M1301.3,313.0v10.4M1309.2,313.0v10.4M1315.9,313.0v10.4M1318.9,313.0v10.4M1324.9,313.0v10.4M1330.4,313.0v10.4M1334.3,313.0v10.4M1338.9,313.0v10.4M1343.9,313.0v10.4M1347.0,313.0v10.4M1350.6,313.0v10.4M1357.2,313.0v10.4M1363.0,313.0v10.4M1371.3,313.0v10.4M1379.3,313.0v10.4M1397.6,313.0v10.4M1404.6,313.0v10.4M1408.6,313.0v10.4M1416.3,313.0v10.4M1420.8,313.0v10.4M1428.9,313.0v10.4M1431.9,313.0v10.4M1440.9,313.0v10.4M1445.2,313.0v10.4M1448.7,313.0v10.4M1451.7,313.0v10.4M1455.7,313.0v10.4M1457.1,313.0v10.4M1462.4,313.0v10.4M1465.9,313.0v10.4M1469.8,313.0v10.4M1472.9,313.0v10.4M1482.7,313.0v10.4M1489.4,313.0v10.4M1495.1,313.0v10.4M1500.2,313.0v10.4M1501.6,313.0v10.4M1507.0,313.0v10.4M1511.1,313.0v10.4M1514.0,313.0v10.4M1517.5,313.0v10.4M1520.5,313.0v10.4M1526.3,313.0v10.4M1530.0,313.0v10.4M1531.4,313.0v10.4M1539.4,313.0v10.4M1544.3,313.0v10.4M1559.6,313.0v10.4M1563.8,313.0v10.4M1582.3,313.0v10.4M1586.8,313.0v10.4M1592.9,313.0v10.4M849.7,329.2v10.4M851.1,329.2v10.4M858.7,329.2v10.4M869.2,329.2v10.4M875.3,329.2v10.4M880.9,329.2v10.4M882.3,329.2v10.4M885.7,329.2v10.4M890.7,329.2v10.4M893.9,329.2v10.4M898.4,329.2v10.4M902.0,329.2v10.4M907.7,329.2v10.4M910.9,329.2v10.4M917.2,329.2v10.4M920.5,329.2v10.4M923.6,329.2v10.4M927.4,329.2v10.4M928.8,329.2v10.4M933.2,329.2v10.4M936.7,329.2v10.4M939.8,329.2v10.4M946.0,329.2v10.4M949.8,329.2v10.4M953.3,329.2v10.4M954.7,329.2v10.4M959.8,329.2v10.4M964.6,329.2v10.4M970.5,329.2v10.4M977.3,329.2v10.4M982.4,329.2v10.4M992.9,329.2v10.4M999.1,329.2v10.4M1007.1,329.2v10.4M1022.5,329.2v10.4M1031.2,329.2v10.4M1037.8,329.2v10.4M1043.1,329.2v10.4M1052.9,329.2v10.4M1057.2,329.2v10.4M1061.6,329.2v10.4M1063.0,329.2v10.4M1071.7,329.2v10.4M1080.8,329.2v10.4M1085.3,329.2v10.4M1088.3,329.2v10.4M1095.5,329.2v10.4M1100.4,329.2v10.4M1103.7,329.2v10.4M1111.2,329.2v10.4M1120.9,329.2v10.4M1124.4,329.2v10.4M1127.4,329.2v10.4M1132.8,329.2v10.4M1136.4,329.2v10.4M1139.5,329.2v10.4M1142.8,329.2v10.4M1146.0,329.2v10.4M1152.0,329.2v10.4M1155.0,329.2v10.4M1158.6,329.2v10.4M1160.0,329.2v10.4M1164.0,329.2v10.4M1174.1,329.2v10.4M1178.1,329.2v10.4M1181.1,329.2v10.4M1188.6,329.2v10.4M1192.6,329.2v10.4M1194.0,329.2v10.4M1197.0,329.2v10.4M1203.7,329.2v10.4M1207.3,329.2v10.4M1212.5,329.2v10.4M1217.2,329.2v10.4M1221.3,329.2v10.4M1235.2,329.2v10.4M1238.2,329.2v10.4M1239.6,329.2v10.4M1243.5,329.2v10.4M1250.9,329.2v10.4M1258.4,329.2v10.4M1262.4,329.2v10.4M1266.3,329.2v10.4M1269.7,329.2v10.4M1273.1,329.2v10.4M1276.5,329.2v10.4M1280.0,329.2v10.4M1283.9,329.2v10.4M1302.5,329.2v10.4M1316.1,329.2v10.4M1317.5,329.2v10.4M1329.9,329.2v10.4M1331.3,329.2v10.4M1336.0,329.2v10.4M1343.4,329.2v10.4M1356.5,329.2v10.4M1363.4,329.2v10.4M1387.3,329.2v10.4M1397.8,329.2v10.4M1399.2,329.2v10.4M1404.1,329.2v10.4M1407.4,329.2v10.4M1412.3,329.2v10.4M1413.7,329.2v10.4M1419.3,329.2v10.4M1422.5,329.2v10.4M1423.9,329.2v10.4M1428.9,329.2v10.4M1436.3,329.2v10.4M1446.5,329.2v10.4M1453.9,329.2v10.4M1457.3,329.2v10.4M1461.2,329.2v10.4M1465.5,329.2v10.4M1473.5,329.2v10.4M1477.2,329.2v10.4M1478.6,329.2v10.4M1481.5,329.2v10.4M1485.9,329.2v10.4M1494.6,329.2v10.4M1499.1,329.2v10.4M1502.3,329.2v10.4M1506.6,329.2v10.4M1512.2,329.2v10.4M1513.6,329.2v10.4M1517.3,329.2v10.4M1520.3,329.2v10.4M1523.8,329.2v10.4M1527.3,329.2v10.4M1531.1,329.2v10.4M1534.4,329.2v10.4M1535.8,329.2v10.4M1539.7,329.2v10.4M1543.1,329.2v10.4M1549.6,329.2v10.4M1551.0,329.2v10.4M1555.7,329.2v10.4M1558.9,329.2v10.4M1562.1,329.2v10.4M1569.1,329.2v10.4M1574.1,329.2v10.4M1577.1,329.2v10.4M1592.0,329.2v10.4M1596.4,329.2v10.4M850.1,345.4v10.4M862.5,345.4v10.4M872.8,345.4v10.4M879.9,345.4v10.4M896.3,345.4v10.4M901.9,345.4v10.4M905.0,345.4v10.4M911.1,345.4v10.4M915.7,345.4v10.4M919.1,345.4v10.4M922.8,345.4v10.4M924.2,345.4v10.4M929.2,345.4v10.4M932.8,345.4v10.4M938.1,345.4v10.4M943.1,345.4v10.4M949.7,345.4v10.4M953.4,345.4v10.4M960.8,345.4v10.4M966.5,345.4v10.4M972.2,345.4v10.4M979.7,345.4v10.4M985.5,345.4v10.4M991.1,345.4v10.4M995.2,345.4v10.4M1000.9,345.4v10.4M1004.9,345.4v10.4M1008.6,345.4v10.4M1010.0,345.4v10.4M1011.4,345.4v10.4M1019.2,345.4v10.4M1024.4,345.4v10.4M1029.8,345.4v10.4M1040.0,345.4v10.4M1043.1,345.4v10.4M1048.4,345.4v10.4M1052.9,345.4v10.4M1056.8,345.4v10.4M1061.0,345.4v10.4M1069.0,345.4v10.4M1078.8,345.4v10.4M1084.3,345.4v10.4M1092.5,345.4v10.4M1106.4,345.4v10.4M1113.9,345.4v10.4M1119.6,345.4v10.4M1122.7,345.4v10.4M1157.7,345.4v10.4M1161.4,345.4v10.4M1167.0,345.4v10.4M1172.1,345.4v10.4M1173.5,345.4v10.4M1181.2,345.4v10.4M1184.2,345.4v10.4M1191.6,345.4v10.4M1195.0,345.4v10.4M1198.0,345.4v10.4M1203.1,345.4v10.4M1207.3,345.4v10.4M1216.6,345.4v10.4M1221.4,345.4v10.4M1229.9,345.4v10.4M1234.8,345.4v10.4M1240.9,345.4v10.4M1244.4,345.4v10.4M1247.7,345.4v10.4M1251.7,345.4v10.4M1255.1,345.4v10.4M1258.0,345.4v10.4M1261.4,345.4v10.4M1265.3,345.4v10.4M1270.0,345.4v10.4M1271.4,345.4v10.4M1274.5,345.4v10.4M1275.9,345.4v10.4M1279.3,345.4v10.4M1295.4,345.4v10.4M1302.4,345.4v10.4M1306.4,345.4v10.4M1307.8,345.4v10.4M1312.5,345.4v10.4M1317.8,345.4v10.4M1328.4,345.4v10.4M1349.8,345.4v10.4M1363.9,345.4v10.4M1365.3,345.4v10.4M1370.3,345.4v10.4M1374.1,345.4v10.4M1392.9,345.4v10.4M1394.3,345.4v10.4M1399.4,345.4v10.4M1402.4,345.4v10.4M1419.3,345.4v10.4M1432.4,345.4v10.4M1448.3,345.4v10.4M1460.5,345.4v10.4M1464.1,345.4v10.4M1470.8,345.4v10.4M1475.8,345.4v10.4M1478.9,345.4v10.4M1483.6,345.4v10.4M1489.4,345.4v10.4M1501.9,345.4v10.4M1509.1,345.4v10.4M1513.1,345.4v10.4M1514.5,345.4v10.4M1518.6,345.4v10.4M1522.2,345.4v10.4M1527.1,345.4v10.4M1528.5,345.4v10.4M1531.7,345.4v10.4M1533.1,345.4v10.4M1537.5,345.4v10.4M1541.2,345.4v10.4M1550.1,345.4v10.4M1557.3,345.4v10.4M1558.7,345.4v10.4M1571.3,345.4v10.4M1583.2,345.4v10.4M1587.9,345.4v10.4M1591.5,345.4v10.4M869.6,361.6v10.4M879.6,361.6v10.4M889.8,361.6v10.4M899.1,361.6v10.4M913.8,361.6v10.4M920.3,361.6v10.4M923.8,361.6v10.4M932.2,361.6v10.4M940.0,361.6v10.4M945.1,361.6v10.4M952.2,361.6v10.4M953.6,361.6v10.4M961.5,361.6v10.4M969.6,361.6v10.4M990.7,361.6v10.4M1000.5,361.6v10.4M1020.5,361.6v10.4M1040.9,361.6v10.4M1049.0,361.6v10.4M1053.2,361.6v10.4M1062.2,361.6v10.4M1081.1,361.6v10.4M1110.1,361.6v10.4M1131.5,361.6v10.4M1132.9,361.6v10.4M1154.5,361.6v10.4M1159.1,361.6v10.4M1165.3,361.6v10.4M1178.0,361.6v10.4M1182.3,361.6v10.4M1185.5,361.6v10.4M1194.9,361.6v10.4M1199.0,361.6v10.4M1210.7,361.6v10.4M1217.7,361.6v10.4M1229.9,361.6v10.4M1231.3,361.6v10.4M1234.4,361.6v10.4M1251.8,361.6v10.4M1255.7,361.6v10.4M1262.5,361.6v10.4M1272.8,361.6v10.4M1276.2,361.6v10.4M1280.8,361.6v10.4M1298.3,361.6v10.4M1302.8,361.6v10.4M1304.2,361.6v10.4M1310.1,361.6v10.4M1320.9,361.6v10.4M1332.7,361.6v10.4M1338.0,361.6v10.4M1357.3,361.6v10.4M1363.7,361.6v10.4M1434.9,361.6v10.4M1441.6,361.6v10.4M1475.4,361.6v10.4M1487.5,361.6v10.4M1492.8,361.6v10.4M1496.7,361.6v10.4M1503.0,361.6v10.4M1508.8,361.6v10.4M1515.5,361.6v10.4M1520.5,361.6v10.4M1524.7,361.6v10.4M1529.1,361.6v10.4M1533.6,361.6v10.4M1541.7,361.6v10.4M1557.6,361.6v10.4M1568.6,361.6v10.4M1570.0,361.6v10.4M1577.1,361.6v10.4M1585.3,361.6v10.4M1592.0,361.6v10.4M845.2,377.8v10.4M850.8,377.8v10.4M864.6,377.8v10.4M866.0,377.8v10.4M867.4,377.8v10.4M872.2,377.8v10.4M880.1,377.8v10.4M884.5,377.8v10.4M885.9,377.8v10.4M892.4,377.8v10.4M896.9,377.8v10.4M901.2,377.8v10.4M907.7,377.8v10.4M926.1,377.8v10.4M931.6,377.8v10.4M940.1,377.8v10.4M941.5,377.8v10.4M947.9,377.8v10.4M956.7,377.8v10.4M983.9,377.8v10.4M988.9,377.8v10.4M994.1,377.8v10.4M997.4,377.8v10.4M1005.3,377.8v10.4M1015.3,377.8v10.4M1028.7,377.8v10.4M1044.6,377.8v10.4M1046.0,377.8v10.4M1074.7,377.8v10.4M1076.1,377.8v10.4M1084.3,377.8v10.4M1095.1,377.8v10.4M1110.5,377.8v10.4M1117.8,377.8v10.4M1125.5,377.8v10.4M1128.9,377.8v10.4M1133.7,377.8v10.4M1138.2,377.8v10.4M1141.4,377.8v10.4M1147.8,377.8v10.4M1154.4,377.8v10.4M1158.0,377.8v10.4M1161.9,377.8v10.4M1169.6,377.8v10.4M1178.6,377.8v10.4M1201.7,377.8v10.4M1204.6,377.8v10.4M1214.8,377.8v10.4M1222.2,377.8v10.4M1223.6,377.8v10.4M1226.9,377.8v10.4M1241.0,377.8v10.4M1242.4,377.8v10.4M1243.8,377.8v10.4M1247.7,377.8v10.4M1259.6,377.8v10.4M1265.5,377.8v10.4M1279.2,377.8v10.4M1287.8,377.8v10.4M1309.5,377.8v10.4M1315.8,377.8v10.4M1321.5,377.8v10.4M1329.4,377.8v10.4M1336.0,377.8v10.4M1337.4,377.8v10.4M1338.8,377.8v10.4M1347.4,377.8v10.4M1354.0,377.8v10.4M1358.0,377.8v10.4M1364.8,377.8v10.4M1370.6,377.8v10.4M1372.0,377.8v10.4M1381.0,377.8v10.4M1384.0,377.8v10.4M1430.3,377.8v10.4M1444.2,377.8v10.4M1449.2,377.8v10.4M1456.7,377.8v10.4M1462.7,377.8v10.4M1464.1,377.8v10.4M1467.4,377.8v10.4M1471.5,377.8v10.4M1476.4,377.8v10.4M1481.1,377.8v10.4M1482.5,377.8v10.4M1499.7,377.8v10.4M1504.2,377.8v10.4M1514.0,377.8v10.4M1515.4,377.8v10.4M1516.8,377.8v10.4M1524.4,377.8v10.4M1541.1,377.8v10.4M1544.1,377.8v10.4M1555.0,377.8v10.4M1557.9,377.8v10.4M1563.8,377.8v10.4M1588.0,377.8v10.4M1591.3,377.8v10.4M843.0,394.0v10.4M844.4,394.0v10.4M847.7,394.0v10.4M854.3,394.0v10.4M857.7,394.0v10.4M862.1,394.0v10.4M868.6,394.0v10.4M872.7,394.0v10.4M879.4,394.0v10.4M883.0,394.0v10.4M884.4,394.0v10.4M890.3,394.0v10.4M899.0,394.0v10.4M905.3,394.0v10.4M910.6,394.0v10.4M914.0,394.0v10.4M917.7,394.0v10.4M921.6,394.0v10.4M925.3,394.0v10.4M932.3,394.0v10.4M937.5,394.0v10.4M949.4,394.0v10.4M957.5,394.0v10.4M988.2,394.0v10.4M1005.4,394.0v10.4M1011.3,394.0v10.4M1021.5,394.0v10.4M1024.8,394.0v10.4M1030.5,394.0v10.4M1036.2,394.0v10.4M1042.7,394.0v10.4M1055.0,394.0v10.4M1060.1,394.0v10.4M1061.5,394.0v10.4M1065.6,394.0v10.4M1068.6,394.0v10.4M1074.2,394.0v10.4M1078.5,394.0v10.4M1091.7,394.0v10.4M1093.1,394.0v10.4M1102.0,394.0v10.4M1105.8,394.0v10.4M1112.6,394.0v10.4M1121.5,394.0v10.4M1133.5,394.0v10.4M1140.4,394.0v10.4M1152.9,394.0v10.4M1156.8,394.0v10.4M1163.2,394.0v10.4M1164.6,394.0v10.4M1169.6,394.0v10.4M1173.4,394.0v10.4M1176.7,394.0v10.4M1180.5,394.0v10.4M1184.5,394.0v10.4M1194.3,394.0v10.4M1205.3,394.0v10.4M1213.5,394.0v10.4M1225.7,394.0v10.4M1238.6,394.0v10.4M1256.9,394.0v10.4M1260.2,394.0v10.4M1266.8,394.0v10.4M1271.6,394.0v10.4M1277.6,394.0v10.4M1298.0,394.0v10.4M1305.3,394.0v10.4M1309.7,394.0v10.4M1313.2,394.0v10.4M1314.6,394.0v10.4M1316.0,394.0v10.4M1323.8,394.0v10.4M1354.8,394.0v10.4M1356.2,394.0v10.4M1357.6,394.0v10.4M1360.7,394.0v10.4M1396.7,394.0v10.4M1407.9,394.0v10.4M1409.3,394.0v10.4M1415.2,394.0v10.4M1421.1,394.0v10.4M1426.8,394.0v10.4M1434.9,394.0v10.4M1436.3,394.0v10.4M1442.5,394.0v10.4M1457.3,394.0v10.4M1460.9,394.0v10.4M1465.7,394.0v10.4M1482.8,394.0v10.4M1502.6,394.0v10.4M1515.4,394.0v10.4M1518.4,394.0v10.4M1525.6,394.0v10.4M1533.0,394.0v10.4M1534.4,394.0v10.4M1541.1,394.0v10.4M1544.1,394.0v10.4M1559.0,394.0v10.4M1560.4,394.0v10.4M1577.8,394.0v10.4M1588.9,394.0v10.4M875.2,410.2v10.4M880.1,410.2v10.4M881.5,410.2v10.4M889.3,410.2v10.4M894.9,410.2v10.4M899.0,410.2v10.4M903.7,410.2v10.4M912.9,410.2v10.4M916.3,410.2v10.4M921.3,410.2v10.4M925.6,410.2v10.4M932.3,410.2v10.4M938.1,410.2v10.4M949.7,410.2v10.4M953.8,410.2v10.4M958.4,410.2v10.4M966.3,410.2v10.4M967.7,410.2v10.4M976.6,410.2v10.4M980.4,410.2v10.4M1000.5,410.2v10.4M1005.0,410.2v10.4M1024.2,410.2v10.4M1027.7,410.2v10.4M1038.1,410.2v10.4M1051.0,410.2v10.4M1056.9,410.2v10.4M1073.9,410.2v10.4M1075.3,410.2v10.4M1086.8,410.2v10.4M1090.5,410.2v10.4M1094.9,410.2v10.4M1117.2,410.2v10.4M1135.6,410.2v10.4M1151.4,410.2v10.4M1160.6,410.2v10.4M1164.6,410.2v10.4M1173.7,410.2v10.4M1183.9,410.2v10.4M1190.2,410.2v10.4M1193.7,410.2v10.4M1195.1,410.2v10.4M1199.1,410.2v10.4M1202.2,410.2v10.4M1206.0,410.2v10.4M1212.1,410.2v10.4M1218.1,410.2v10.4M1223.6,410.2v10.4M1226.7,410.2v10.4M1229.8,410.2v10.4M1236.7,410.2v10.4M1241.4,410.2v10.4M1245.3,410.2v10.4M1249.1,410.2v10.4M1260.9,410.2v10.4M1266.3,410.2v10.4M1271.1,410.2v10.4M1283.6,410.2v10.4M1286.6,410.2v10.4M1288.0,410.2v10.4M1291.7,410.2v10.4M1301.7,410.2v10.4M1304.7,410.2v10.4M1318.5,410.2v10.4M1329.3,410.2v10.4M1330.7,410.2v10.4M1332.1,410.2v10.4M1337.2,410.2v10.4M1343.2,410.2v10.4M1352.4,410.2v10.4M1359.3,410.2v10.4M1369.8,410.2v10.4M1379.5,410.2v10.4M1386.2,410.2v10.4M1391.9,410.2v10.4M1416.0,410.2v10.4M1421.5,410.2v10.4M1485.7,410.2v10.4M1489.1,410.2v10.4M1492.8,410.2v10.4M1496.2,410.2v10.4M1497.6,410.2v10.4M1503.7,410.2v10.4M1509.0,410.2v10.4M1519.6,410.2v10.4M1521.0,410.2v10.4M1526.3,410.2v10.4M1532.4,410.2v10.4M1533.8,410.2v10.4M1539.6,410.2v10.4M1546.9,410.2v10.4M1551.3,410.2v10.4M1554.6,410.2v10.4M1558.7,410.2v10.4M1568.7,410.2v10.4M1581.4,410.2v10.4M1586.5,410.2v10.4" stroke="#0b0728" stroke-width="1.5" fill="none"/>
<path fill="#2E1098" d="M133.10,467.80h63.23v8.82h-63.23zM133.10,479.02h63.23v14.43h-63.23zM133.10,495.85h63.23v8.82h-63.23zM133.10,521.10h63.23v3.21h-63.23zM133.10,526.71h63.23v8.82h-63.23zM133.10,543.54h63.23v6.01h-63.23zM133.10,560.38h63.23v8.82h-63.23zM133.10,571.60h63.23v3.21h-63.23zM133.10,580.01h63.23v11.62h-63.23zM133.10,610.87h63.23v3.21h-63.23zM133.10,616.48h63.23v6.01h-63.23zM133.10,633.32h63.23v8.82h-63.23zM133.10,655.76h63.23v8.82h-63.23zM133.10,678.20h63.23v3.21h-63.23zM133.10,683.81h63.23v3.21h-63.23zM133.10,703.45h63.23v3.21h-63.23zM133.10,709.06h63.23v8.82h-63.23zM133.10,723.09h63.23v6.01h-63.23zM133.10,739.92h63.23v8.82h-63.23zM133.10,751.14h63.23v14.43h-63.23zM195.93,467.80h63.23v6.01h-63.23zM195.93,476.22h63.23v3.21h-63.23zM195.93,484.63h63.23v39.67h-63.23zM195.93,526.71h63.23v6.01h-63.23zM195.93,535.13h63.23v11.62h-63.23zM195.93,549.15h63.23v3.21h-63.23zM195.93,554.77h63.23v3.21h-63.23zM195.93,560.38h63.23v3.21h-63.23zM195.93,571.60h63.23v3.21h-63.23zM195.93,577.21h63.23v8.82h-63.23zM195.93,588.43h63.23v3.21h-63.23zM195.93,594.04h63.23v14.43h-63.23zM195.93,610.87h63.23v6.01h-63.23zM195.93,624.90h63.23v6.01h-63.23zM195.93,647.34h63.23v11.62h-63.23zM195.93,661.37h63.23v11.62h-63.23zM195.93,675.40h63.23v3.21h-63.23zM195.93,686.62h63.23v3.21h-63.23zM195.93,692.23h63.23v3.21h-63.23zM195.93,697.84h63.23v3.21h-63.23zM195.93,720.28h63.23v6.01h-63.23zM195.93,734.31h63.23v3.21h-63.23zM195.93,759.56h63.23v6.01h-63.23zM195.93,767.97h63.23v3.21h-63.23zM195.93,776.39h63.23v3.21h-63.23zM195.93,790.41h63.23v3.21h-63.23zM195.93,801.64h63.23v6.01h-63.23zM195.93,815.66h63.23v3.21h-63.23zM258.75,490.24h63.23v6.01h-63.23zM258.75,512.69h63.23v6.01h-63.23zM258.75,521.10h63.23v3.21h-63.23zM258.75,554.77h63.23v6.01h-63.23zM258.75,568.79h63.23v6.01h-63.23zM258.75,599.65h63.23v3.21h-63.23zM258.75,647.34h63.23v6.01h-63.23zM258.75,681.01h63.23v3.21h-63.23zM258.75,697.84h63.23v3.21h-63.23zM258.75,711.86h63.23v3.21h-63.23zM258.75,734.31h63.23v3.21h-63.23zM258.75,748.33h63.23v3.21h-63.23zM321.58,512.69h63.23v6.01h-63.23zM321.58,591.24h63.23v6.01h-63.23zM321.58,622.09h63.23v6.01h-63.23zM321.58,672.59h63.23v3.21h-63.23zM321.58,695.03h63.23v3.21h-63.23zM384.40,515.49h63.23v3.21h-63.23zM384.40,523.91h63.23v3.21h-63.23zM384.40,594.04h63.23v3.21h-63.23zM384.40,622.09h63.23v3.21h-63.23zM384.40,630.51h63.23v3.21h-63.23zM384.40,765.17h63.23v3.21h-63.23zM384.40,773.58h63.23v3.21h-63.23zM384.40,787.61h63.23v3.21h-63.23zM384.40,829.69h63.23v3.21h-63.23zM447.23,574.40h63.23v3.21h-63.23zM447.23,594.04h63.23v3.21h-63.23zM447.23,706.25h63.23v3.21h-63.23zM447.23,773.58h63.23v3.21h-63.23zM447.23,784.80h63.23v6.01h-63.23zM447.23,807.25h63.23v3.21h-63.23zM510.05,487.44h63.23v3.21h-63.23zM510.05,728.70h63.23v3.21h-63.23zM510.05,793.22h63.23v3.21h-63.23zM572.88,540.74h62.83v3.21h-62.83zM572.88,770.78h62.83v3.21h-62.83zM572.88,776.39h62.83v8.82h-62.83zM572.88,796.03h62.83v3.21h-62.83zM572.88,801.64h62.83v6.01h-62.83zM572.88,815.66h62.83v14.43h-62.83z"/>
<path fill="#3A22CC" d="M133.10,476.22h63.23v3.21h-63.23zM133.10,493.05h63.23v3.21h-63.23zM133.10,507.07h63.23v3.21h-63.23zM133.10,512.69h63.23v8.82h-63.23zM133.10,535.13h63.23v8.82h-63.23zM133.10,549.15h63.23v6.01h-63.23zM133.10,577.21h63.23v3.21h-63.23zM133.10,596.85h63.23v3.21h-63.23zM133.10,605.26h63.23v6.01h-63.23zM133.10,613.68h63.23v3.21h-63.23zM133.10,641.73h63.23v3.21h-63.23zM133.10,664.17h63.23v11.62h-63.23zM133.10,689.42h63.23v6.01h-63.23zM133.10,697.84h63.23v6.01h-63.23zM133.10,706.25h63.23v3.21h-63.23zM133.10,734.31h63.23v3.21h-63.23zM133.10,767.97h63.23v3.21h-63.23zM133.10,776.39h63.23v3.21h-63.23zM195.93,479.02h63.23v6.01h-63.23zM195.93,523.91h63.23v3.21h-63.23zM195.93,546.35h63.23v3.21h-63.23zM195.93,557.57h63.23v3.21h-63.23zM195.93,563.18h63.23v3.21h-63.23zM195.93,585.62h63.23v3.21h-63.23zM195.93,608.07h63.23v3.21h-63.23zM195.93,619.29h63.23v3.21h-63.23zM195.93,633.32h63.23v3.21h-63.23zM195.93,638.93h63.23v3.21h-63.23zM195.93,658.56h63.23v3.21h-63.23zM195.93,678.20h63.23v6.01h-63.23zM195.93,689.42h63.23v3.21h-63.23zM195.93,700.64h63.23v3.21h-63.23zM195.93,737.11h63.23v3.21h-63.23zM195.93,748.33h63.23v3.21h-63.23zM258.75,467.80h63.23v8.82h-63.23zM258.75,481.83h63.23v6.01h-63.23zM258.75,495.85h63.23v11.62h-63.23zM258.75,523.91h63.23v22.84h-63.23zM258.75,551.96h63.23v3.21h-63.23zM258.75,582.82h63.23v17.23h-63.23zM258.75,602.46h63.23v3.21h-63.23zM258.75,608.07h63.23v3.21h-63.23zM258.75,613.68h63.23v3.21h-63.23zM258.75,622.09h63.23v3.21h-63.23zM258.75,627.70h63.23v6.01h-63.23zM258.75,636.12h63.23v8.82h-63.23zM258.75,661.37h63.23v8.82h-63.23zM258.75,675.40h63.23v3.21h-63.23zM258.75,692.23h63.23v6.01h-63.23zM258.75,700.64h63.23v3.21h-63.23zM258.75,714.67h63.23v6.01h-63.23zM258.75,723.09h63.23v3.21h-63.23zM258.75,767.97h63.23v3.21h-63.23zM258.75,804.44h63.23v3.21h-63.23zM321.58,467.80h63.23v6.01h-63.23zM321.58,476.22h63.23v3.21h-63.23zM321.58,490.24h63.23v6.01h-63.23zM321.58,498.66h63.23v3.21h-63.23zM321.58,521.10h63.23v3.21h-63.23zM321.58,540.74h63.23v6.01h-63.23zM321.58,551.96h63.23v8.82h-63.23zM321.58,568.79h63.23v6.01h-63.23zM321.58,630.51h63.23v3.21h-63.23zM321.58,641.73h63.23v3.21h-63.23zM321.58,675.40h63.23v3.21h-63.23zM321.58,717.48h63.23v3.21h-63.23zM321.58,731.50h63.23v6.01h-63.23zM321.58,773.58h63.23v3.21h-63.23zM321.58,779.19h63.23v3.21h-63.23zM384.40,490.24h63.23v3.21h-63.23zM384.40,613.68h63.23v3.21h-63.23zM384.40,619.29h63.23v3.21h-63.23zM384.40,624.90h63.23v3.21h-63.23zM384.40,692.23h63.23v6.01h-63.23zM384.40,731.50h63.23v6.01h-63.23zM447.23,523.91h63.23v3.21h-63.23zM447.23,624.90h63.23v3.21h-63.23zM447.23,717.48h63.23v3.21h-63.23zM447.23,798.83h63.23v3.21h-63.23zM510.05,787.61h63.23v6.01h-63.23zM510.05,798.83h63.23v3.21h-63.23zM510.05,804.44h63.23v3.21h-63.23zM510.05,810.05h63.23v3.21h-63.23zM510.05,815.66h63.23v3.21h-63.23zM510.05,821.27h63.23v3.21h-63.23zM572.88,717.48h62.83v3.21h-62.83zM572.88,742.72h62.83v3.21h-62.83zM572.88,810.05h62.83v6.01h-62.83zM572.88,832.49h62.83v2.81h-62.83z"/>
<path fill="#4844EE" d="M133.10,504.27h63.23v3.21h-63.23zM133.10,509.88h63.23v3.21h-63.23zM133.10,523.91h63.23v3.21h-63.23zM133.10,574.40h63.23v3.21h-63.23zM133.10,591.24h63.23v6.01h-63.23zM133.10,599.65h63.23v6.01h-63.23zM133.10,627.70h63.23v3.21h-63.23zM133.10,644.54h63.23v3.21h-63.23zM133.10,695.03h63.23v3.21h-63.23zM133.10,720.28h63.23v3.21h-63.23zM133.10,728.70h63.23v3.21h-63.23zM133.10,793.22h63.23v6.01h-63.23zM133.10,821.27h63.23v3.21h-63.23zM195.93,473.41h63.23v3.21h-63.23zM195.93,532.32h63.23v3.21h-63.23zM195.93,551.96h63.23v3.21h-63.23zM195.93,574.40h63.23v3.21h-63.23zM195.93,630.51h63.23v3.21h-63.23zM195.93,636.12h63.23v3.21h-63.23zM195.93,695.03h63.23v3.21h-63.23zM195.93,709.06h63.23v8.82h-63.23zM195.93,739.92h63.23v3.21h-63.23zM195.93,745.53h63.23v3.21h-63.23zM195.93,753.95h63.23v6.01h-63.23zM195.93,812.86h63.23v3.21h-63.23zM258.75,476.22h63.23v6.01h-63.23zM258.75,487.44h63.23v3.21h-63.23zM258.75,507.07h63.23v6.01h-63.23zM258.75,518.30h63.23v3.21h-63.23zM258.75,546.35h63.23v6.01h-63.23zM258.75,577.21h63.23v6.01h-63.23zM258.75,610.87h63.23v3.21h-63.23zM258.75,616.48h63.23v6.01h-63.23zM258.75,728.70h63.23v3.21h-63.23zM321.58,523.91h63.23v3.21h-63.23zM321.58,529.52h63.23v8.82h-63.23zM321.58,582.82h63.23v6.01h-63.23zM321.58,599.65h63.23v3.21h-63.23zM321.58,613.68h63.23v3.21h-63.23zM321.58,619.29h63.23v3.21h-63.23zM321.58,647.34h63.23v6.01h-63.23zM321.58,661.37h63.23v8.82h-63.23zM321.58,692.23h63.23v3.21h-63.23zM321.58,697.84h63.23v6.01h-63.23zM321.58,751.14h63.23v3.21h-63.23zM321.58,804.44h63.23v3.21h-63.23zM384.40,476.22h63.23v3.21h-63.23zM384.40,487.44h63.23v3.21h-63.23zM384.40,554.77h63.23v6.01h-63.23zM384.40,571.60h63.23v3.21h-63.23zM384.40,644.54h63.23v8.82h-63.23zM384.40,661.37h63.23v6.01h-63.23zM384.40,675.40h63.23v3.21h-63.23zM384.40,706.25h63.23v3.21h-63.23zM384.40,748.33h63.23v3.21h-63.23zM384.40,804.44h63.23v6.01h-63.23zM447.23,515.49h63.23v3.21h-63.23zM447.23,563.18h63.23v3.21h-63.23zM447.23,748.33h63.23v3.21h-63.23zM447.23,801.64h63.23v6.01h-63.23zM510.05,560.38h63.23v3.21h-63.23zM510.05,751.14h63.23v3.21h-63.23zM510.05,784.80h63.23v3.21h-63.23zM510.05,812.86h63.23v3.21h-63.23zM510.05,824.08h63.23v6.01h-63.23zM572.88,641.73h62.83v3.21h-62.83zM572.88,756.75h62.83v3.21h-62.83zM572.88,767.97h62.83v3.21h-62.83z"/>
<path fill="#4E6EF0" d="M133.10,554.77h63.23v6.01h-63.23zM133.10,647.34h63.23v3.21h-63.23zM133.10,737.11h63.23v3.21h-63.23zM195.93,565.99h63.23v6.01h-63.23zM195.93,622.09h63.23v3.21h-63.23zM195.93,641.73h63.23v6.01h-63.23zM195.93,683.81h63.23v3.21h-63.23zM195.93,703.45h63.23v6.01h-63.23zM195.93,717.48h63.23v3.21h-63.23zM195.93,725.89h63.23v6.01h-63.23zM195.93,742.72h63.23v3.21h-63.23zM195.93,751.14h63.23v3.21h-63.23zM195.93,779.19h63.23v3.21h-63.23zM195.93,784.80h63.23v3.21h-63.23zM258.75,560.38h63.23v8.82h-63.23zM258.75,605.26h63.23v3.21h-63.23zM258.75,633.32h63.23v3.21h-63.23zM258.75,644.54h63.23v3.21h-63.23zM258.75,652.95h63.23v8.82h-63.23zM258.75,669.78h63.23v3.21h-63.23zM258.75,678.20h63.23v3.21h-63.23zM258.75,683.81h63.23v8.82h-63.23zM258.75,706.25h63.23v6.01h-63.23zM258.75,725.89h63.23v3.21h-63.23zM258.75,731.50h63.23v3.21h-63.23zM258.75,742.72h63.23v3.21h-63.23zM258.75,756.75h63.23v8.82h-63.23zM258.75,773.58h63.23v11.62h-63.23zM258.75,790.41h63.23v3.21h-63.23zM321.58,473.41h63.23v3.21h-63.23zM321.58,479.02h63.23v11.62h-63.23zM321.58,495.85h63.23v3.21h-63.23zM321.58,501.46h63.23v11.62h-63.23zM321.58,526.71h63.23v3.21h-63.23zM321.58,560.38h63.23v8.82h-63.23zM321.58,574.40h63.23v8.82h-63.23zM321.58,588.43h63.23v3.21h-63.23zM321.58,596.85h63.23v3.21h-63.23zM321.58,602.46h63.23v3.21h-63.23zM321.58,608.07h63.23v3.21h-63.23zM321.58,627.70h63.23v3.21h-63.23zM321.58,636.12h63.23v6.01h-63.23zM321.58,644.54h63.23v3.21h-63.23zM321.58,681.01h63.23v6.01h-63.23zM321.58,706.25h63.23v3.21h-63.23zM321.58,728.70h63.23v3.21h-63.23zM321.58,748.33h63.23v3.21h-63.23zM321.58,765.17h63.23v3.21h-63.23zM384.40,467.80h63.23v6.01h-63.23zM384.40,493.05h63.23v3.21h-63.23zM384.40,498.66h63.23v3.21h-63.23zM384.40,509.88h63.23v6.01h-63.23zM384.40,540.74h63.23v3.21h-63.23zM384.40,568.79h63.23v3.21h-63.23zM384.40,574.40h63.23v3.21h-63.23zM384.40,599.65h63.23v3.21h-63.23zM384.40,627.70h63.23v3.21h-63.23zM384.40,641.73h63.23v3.21h-63.23zM384.40,697.84h63.23v6.01h-63.23zM384.40,784.80h63.23v3.21h-63.23zM384.40,798.83h63.23v3.21h-63.23zM447.23,630.51h63.23v6.01h-63.23zM447.23,644.54h63.23v3.21h-63.23zM447.23,692.23h63.23v6.01h-63.23zM447.23,765.17h63.23v3.21h-63.23zM447.23,810.05h63.23v3.21h-63.23zM447.23,826.88h63.23v6.01h-63.23zM510.05,594.04h63.23v3.21h-63.23zM510.05,773.58h63.23v3.21h-63.23zM510.05,796.03h63.23v3.21h-63.23zM510.05,801.64h63.23v3.21h-63.23zM510.05,829.69h63.23v3.21h-63.23z"/>
<path fill="#5A9CCC" d="M133.10,568.79h63.23v3.21h-63.23zM133.10,622.09h63.23v6.01h-63.23zM133.10,779.19h63.23v3.21h-63.23zM195.93,616.48h63.23v3.21h-63.23zM195.93,672.59h63.23v3.21h-63.23zM195.93,782.00h63.23v3.21h-63.23zM195.93,796.03h63.23v3.21h-63.23zM258.75,672.59h63.23v3.21h-63.23zM258.75,703.45h63.23v3.21h-63.23zM258.75,720.28h63.23v3.21h-63.23zM258.75,739.92h63.23v3.21h-63.23zM258.75,745.53h63.23v3.21h-63.23zM258.75,751.14h63.23v6.01h-63.23zM258.75,770.78h63.23v3.21h-63.23zM258.75,796.03h63.23v3.21h-63.23zM258.75,801.64h63.23v3.21h-63.23zM321.58,518.30h63.23v3.21h-63.23zM321.58,537.93h63.23v3.21h-63.23zM321.58,610.87h63.23v3.21h-63.23zM321.58,669.78h63.23v3.21h-63.23zM321.58,678.20h63.23v3.21h-63.23zM321.58,686.62h63.23v6.01h-63.23zM321.58,714.67h63.23v3.21h-63.23zM321.58,770.78h63.23v3.21h-63.23zM384.40,473.41h63.23v3.21h-63.23zM384.40,507.07h63.23v3.21h-63.23zM384.40,529.52h63.23v6.01h-63.23zM384.40,560.38h63.23v6.01h-63.23zM384.40,582.82h63.23v3.21h-63.23zM384.40,591.24h63.23v3.21h-63.23zM384.40,602.46h63.23v3.21h-63.23zM384.40,633.32h63.23v3.21h-63.23zM384.40,672.59h63.23v3.21h-63.23zM447.23,476.22h63.23v3.21h-63.23zM447.23,557.57h63.23v3.21h-63.23zM447.23,619.29h63.23v6.01h-63.23zM447.23,664.17h63.23v3.21h-63.23zM447.23,815.66h63.23v3.21h-63.23zM447.23,821.27h63.23v3.21h-63.23zM510.05,661.37h63.23v6.01h-63.23zM510.05,762.36h63.23v3.21h-63.23zM510.05,776.39h63.23v6.01h-63.23zM510.05,807.25h63.23v3.21h-63.23zM510.05,832.49h63.23v2.81h-63.23zM572.88,666.98h62.83v6.01h-62.83zM572.88,739.92h62.83v3.21h-62.83zM572.88,745.53h62.83v3.21h-62.83zM572.88,759.56h62.83v3.21h-62.83zM572.88,784.80h62.83v3.21h-62.83zM572.88,807.25h62.83v3.21h-62.83zM572.88,829.69h62.83v3.21h-62.83z"/>
<path fill="#6AB8A0" d="M133.10,650.15h63.23v6.01h-63.23zM133.10,681.01h63.23v3.21h-63.23zM133.10,782.00h63.23v6.01h-63.23zM133.10,801.64h63.23v3.21h-63.23zM133.10,812.86h63.23v3.21h-63.23zM195.93,731.50h63.23v3.21h-63.23zM195.93,770.78h63.23v6.01h-63.23zM258.75,624.90h63.23v3.21h-63.23zM258.75,737.11h63.23v3.21h-63.23zM258.75,765.17h63.23v3.21h-63.23zM258.75,793.22h63.23v3.21h-63.23zM258.75,812.86h63.23v3.21h-63.23zM321.58,546.35h63.23v6.01h-63.23zM321.58,633.32h63.23v3.21h-63.23zM321.58,709.06h63.23v6.01h-63.23zM321.58,725.89h63.23v3.21h-63.23zM321.58,742.72h63.23v3.21h-63.23zM321.58,756.75h63.23v6.01h-63.23zM321.58,767.97h63.23v3.21h-63.23zM321.58,776.39h63.23v3.21h-63.23zM321.58,829.69h63.23v3.21h-63.23zM384.40,481.83h63.23v6.01h-63.23zM384.40,501.46h63.23v6.01h-63.23zM384.40,518.30h63.23v6.01h-63.23zM384.40,535.13h63.23v3.21h-63.23zM384.40,551.96h63.23v3.21h-63.23zM384.40,565.99h63.23v3.21h-63.23zM384.40,577.21h63.23v3.21h-63.23zM384.40,585.62h63.23v3.21h-63.23zM384.40,608.07h63.23v6.01h-63.23zM384.40,636.12h63.23v6.01h-63.23zM384.40,666.98h63.23v3.21h-63.23zM384.40,683.81h63.23v6.01h-63.23zM384.40,717.48h63.23v3.21h-63.23zM384.40,728.70h63.23v3.21h-63.23zM384.40,742.72h63.23v3.21h-63.23zM384.40,801.64h63.23v3.21h-63.23zM384.40,810.05h63.23v3.21h-63.23zM384.40,818.47h63.23v3.21h-63.23zM447.23,467.80h63.23v3.21h-63.23zM447.23,490.24h63.23v3.21h-63.23zM447.23,507.07h63.23v8.82h-63.23zM447.23,554.77h63.23v3.21h-63.23zM447.23,568.79h63.23v6.01h-63.23zM447.23,582.82h63.23v6.01h-63.23zM447.23,613.68h63.23v3.21h-63.23zM447.23,627.70h63.23v3.21h-63.23zM447.23,647.34h63.23v6.01h-63.23zM447.23,672.59h63.23v6.01h-63.23zM447.23,697.84h63.23v6.01h-63.23zM447.23,720.28h63.23v3.21h-63.23zM447.23,731.50h63.23v3.21h-63.23zM447.23,818.47h63.23v3.21h-63.23zM510.05,476.22h63.23v3.21h-63.23zM510.05,554.77h63.23v3.21h-63.23zM510.05,624.90h63.23v6.01h-63.23zM510.05,644.54h63.23v3.21h-63.23zM510.05,669.78h63.23v8.82h-63.23zM510.05,756.75h63.23v3.21h-63.23zM510.05,782.00h63.23v3.21h-63.23zM510.05,818.47h63.23v3.21h-63.23zM572.88,518.30h62.83v6.01h-62.83zM572.88,560.38h62.83v3.21h-62.83zM572.88,678.20h62.83v3.21h-62.83zM572.88,723.09h62.83v3.21h-62.83zM572.88,734.31h62.83v3.21h-62.83zM572.88,748.33h62.83v6.01h-62.83zM572.88,762.36h62.83v3.21h-62.83zM572.88,773.58h62.83v3.21h-62.83zM572.88,793.22h62.83v3.21h-62.83z"/>
<path fill="#98C050" d="M133.10,630.51h63.23v3.21h-63.23zM133.10,675.40h63.23v3.21h-63.23zM133.10,686.62h63.23v3.21h-63.23zM133.10,717.48h63.23v3.21h-63.23zM133.10,765.17h63.23v3.21h-63.23zM133.10,770.78h63.23v3.21h-63.23zM133.10,832.49h63.23v2.81h-63.23zM195.93,793.22h63.23v3.21h-63.23zM195.93,832.49h63.23v2.81h-63.23zM258.75,574.40h63.23v3.21h-63.23zM258.75,832.49h63.23v2.81h-63.23zM321.58,605.26h63.23v3.21h-63.23zM321.58,616.48h63.23v3.21h-63.23zM321.58,652.95h63.23v8.82h-63.23zM321.58,703.45h63.23v3.21h-63.23zM321.58,723.09h63.23v3.21h-63.23zM321.58,739.92h63.23v3.21h-63.23zM321.58,782.00h63.23v3.21h-63.23zM321.58,787.61h63.23v14.43h-63.23zM384.40,526.71h63.23v3.21h-63.23zM384.40,543.54h63.23v6.01h-63.23zM384.40,580.01h63.23v3.21h-63.23zM384.40,596.85h63.23v3.21h-63.23zM384.40,616.48h63.23v3.21h-63.23zM384.40,681.01h63.23v3.21h-63.23zM384.40,689.42h63.23v3.21h-63.23zM384.40,756.75h63.23v6.01h-63.23zM384.40,770.78h63.23v3.21h-63.23zM384.40,779.19h63.23v3.21h-63.23zM384.40,826.88h63.23v3.21h-63.23zM447.23,470.61h63.23v6.01h-63.23zM447.23,493.05h63.23v3.21h-63.23zM447.23,498.66h63.23v3.21h-63.23zM447.23,540.74h63.23v3.21h-63.23zM447.23,591.24h63.23v3.21h-63.23zM447.23,599.65h63.23v3.21h-63.23zM447.23,610.87h63.23v3.21h-63.23zM447.23,666.98h63.23v3.21h-63.23zM447.23,683.81h63.23v3.21h-63.23zM447.23,703.45h63.23v3.21h-63.23zM447.23,793.22h63.23v3.21h-63.23zM447.23,812.86h63.23v3.21h-63.23zM510.05,479.02h63.23v3.21h-63.23zM510.05,498.66h63.23v3.21h-63.23zM510.05,518.30h63.23v3.21h-63.23zM510.05,523.91h63.23v3.21h-63.23zM510.05,549.15h63.23v3.21h-63.23zM510.05,557.57h63.23v3.21h-63.23zM510.05,571.60h63.23v6.01h-63.23zM510.05,613.68h63.23v3.21h-63.23zM510.05,619.29h63.23v3.21h-63.23zM510.05,647.34h63.23v3.21h-63.23zM510.05,695.03h63.23v3.21h-63.23zM510.05,720.28h63.23v6.01h-63.23zM510.05,753.95h63.23v3.21h-63.23zM510.05,759.56h63.23v3.21h-63.23zM572.88,509.88h62.83v3.21h-62.83zM572.88,526.71h62.83v3.21h-62.83zM572.88,549.15h62.83v3.21h-62.83zM572.88,652.95h62.83v3.21h-62.83zM572.88,737.11h62.83v3.21h-62.83zM572.88,753.95h62.83v3.21h-62.83zM572.88,765.17h62.83v3.21h-62.83zM572.88,790.41h62.83v3.21h-62.83z"/>
<path fill="#DCAE3A" d="M133.10,807.25h63.23v3.21h-63.23zM195.93,787.61h63.23v3.21h-63.23zM195.93,810.05h63.23v3.21h-63.23zM195.93,824.08h63.23v3.21h-63.23zM258.75,798.83h63.23v3.21h-63.23zM258.75,807.25h63.23v6.01h-63.23zM258.75,821.27h63.23v3.21h-63.23zM321.58,737.11h63.23v3.21h-63.23zM321.58,745.53h63.23v3.21h-63.23zM321.58,753.95h63.23v3.21h-63.23zM321.58,784.80h63.23v3.21h-63.23zM321.58,818.47h63.23v3.21h-63.23zM321.58,832.49h63.23v2.81h-63.23zM384.40,479.02h63.23v3.21h-63.23zM384.40,495.85h63.23v3.21h-63.23zM384.40,537.93h63.23v3.21h-63.23zM384.40,588.43h63.23v3.21h-63.23zM384.40,605.26h63.23v3.21h-63.23zM384.40,678.20h63.23v3.21h-63.23zM384.40,703.45h63.23v3.21h-63.23zM384.40,709.06h63.23v8.82h-63.23zM384.40,751.14h63.23v3.21h-63.23zM384.40,812.86h63.23v6.01h-63.23zM384.40,821.27h63.23v6.01h-63.23zM447.23,481.83h63.23v6.01h-63.23zM447.23,501.46h63.23v6.01h-63.23zM447.23,532.32h63.23v3.21h-63.23zM447.23,543.54h63.23v6.01h-63.23zM447.23,565.99h63.23v3.21h-63.23zM447.23,602.46h63.23v3.21h-63.23zM447.23,608.07h63.23v3.21h-63.23zM447.23,661.37h63.23v3.21h-63.23zM447.23,686.62h63.23v6.01h-63.23zM447.23,711.86h63.23v6.01h-63.23zM447.23,742.72h63.23v3.21h-63.23zM447.23,753.95h63.23v3.21h-63.23zM447.23,776.39h63.23v3.21h-63.23zM447.23,796.03h63.23v3.21h-63.23zM447.23,824.08h63.23v3.21h-63.23zM447.23,832.49h63.23v2.81h-63.23zM510.05,467.80h63.23v3.21h-63.23zM510.05,490.24h63.23v6.01h-63.23zM510.05,507.07h63.23v3.21h-63.23zM510.05,512.69h63.23v6.01h-63.23zM510.05,526.71h63.23v3.21h-63.23zM510.05,535.13h63.23v3.21h-63.23zM510.05,551.96h63.23v3.21h-63.23zM510.05,568.79h63.23v3.21h-63.23zM510.05,582.82h63.23v8.82h-63.23zM510.05,602.46h63.23v6.01h-63.23zM510.05,622.09h63.23v3.21h-63.23zM510.05,630.51h63.23v3.21h-63.23zM510.05,650.15h63.23v8.82h-63.23zM510.05,686.62h63.23v6.01h-63.23zM510.05,697.84h63.23v6.01h-63.23zM510.05,706.25h63.23v3.21h-63.23zM510.05,714.67h63.23v3.21h-63.23zM510.05,731.50h63.23v11.62h-63.23zM510.05,748.33h63.23v3.21h-63.23zM510.05,767.97h63.23v3.21h-63.23zM572.88,479.02h62.83v3.21h-62.83zM572.88,599.65h62.83v3.21h-62.83zM572.88,616.48h62.83v3.21h-62.83zM572.88,655.76h62.83v3.21h-62.83zM572.88,692.23h62.83v3.21h-62.83zM572.88,709.06h62.83v3.21h-62.83zM572.88,720.28h62.83v3.21h-62.83zM572.88,798.83h62.83v3.21h-62.83z"/>
<path fill="#F2D83A" d="M133.10,731.50h63.23v3.21h-63.23zM133.10,798.83h63.23v3.21h-63.23zM133.10,815.66h63.23v3.21h-63.23zM195.93,591.24h63.23v3.21h-63.23zM195.93,807.25h63.23v3.21h-63.23zM195.93,821.27h63.23v3.21h-63.23zM258.75,787.61h63.23v3.21h-63.23zM258.75,815.66h63.23v6.01h-63.23zM258.75,826.88h63.23v6.01h-63.23zM321.58,762.36h63.23v3.21h-63.23zM321.58,801.64h63.23v3.21h-63.23zM321.58,807.25h63.23v3.21h-63.23zM384.40,669.78h63.23v3.21h-63.23zM384.40,723.09h63.23v6.01h-63.23zM384.40,767.97h63.23v3.21h-63.23zM384.40,782.00h63.23v3.21h-63.23zM447.23,526.71h63.23v3.21h-63.23zM447.23,537.93h63.23v3.21h-63.23zM447.23,577.21h63.23v6.01h-63.23zM447.23,636.12h63.23v8.82h-63.23zM447.23,652.95h63.23v8.82h-63.23zM447.23,669.78h63.23v3.21h-63.23zM447.23,737.11h63.23v6.01h-63.23zM447.23,745.53h63.23v3.21h-63.23zM447.23,751.14h63.23v3.21h-63.23zM447.23,767.97h63.23v6.01h-63.23zM447.23,779.19h63.23v6.01h-63.23zM447.23,790.41h63.23v3.21h-63.23zM510.05,470.61h63.23v3.21h-63.23zM510.05,501.46h63.23v6.01h-63.23zM510.05,537.93h63.23v3.21h-63.23zM510.05,563.18h63.23v6.01h-63.23zM510.05,591.24h63.23v3.21h-63.23zM510.05,610.87h63.23v3.21h-63.23zM510.05,633.32h63.23v3.21h-63.23zM510.05,658.56h63.23v3.21h-63.23zM510.05,711.86h63.23v3.21h-63.23zM510.05,745.53h63.23v3.21h-63.23zM572.88,473.41h62.83v3.21h-62.83zM572.88,487.44h62.83v3.21h-62.83zM572.88,495.85h62.83v3.21h-62.83zM572.88,515.49h62.83v3.21h-62.83zM572.88,529.52h62.83v8.82h-62.83zM572.88,546.35h62.83v3.21h-62.83zM572.88,563.18h62.83v3.21h-62.83zM572.88,577.21h62.83v3.21h-62.83zM572.88,591.24h62.83v3.21h-62.83zM572.88,596.85h62.83v3.21h-62.83zM572.88,605.26h62.83v3.21h-62.83zM572.88,787.61h62.83v3.21h-62.83z"/>
<path fill="#F5FA38" d="M133.10,748.33h63.23v3.21h-63.23zM133.10,773.58h63.23v3.21h-63.23zM133.10,787.61h63.23v6.01h-63.23zM133.10,804.44h63.23v3.21h-63.23zM133.10,810.05h63.23v3.21h-63.23zM133.10,818.47h63.23v3.21h-63.23zM133.10,824.08h63.23v8.82h-63.23zM195.93,765.17h63.23v3.21h-63.23zM195.93,798.83h63.23v3.21h-63.23zM195.93,818.47h63.23v3.21h-63.23zM195.93,826.88h63.23v6.01h-63.23zM258.75,784.80h63.23v3.21h-63.23zM258.75,824.08h63.23v3.21h-63.23zM321.58,720.28h63.23v3.21h-63.23zM321.58,810.05h63.23v8.82h-63.23zM321.58,821.27h63.23v8.82h-63.23zM384.40,549.15h63.23v3.21h-63.23zM384.40,652.95h63.23v8.82h-63.23zM384.40,720.28h63.23v3.21h-63.23zM384.40,737.11h63.23v6.01h-63.23zM384.40,745.53h63.23v3.21h-63.23zM384.40,753.95h63.23v3.21h-63.23zM384.40,762.36h63.23v3.21h-63.23zM384.40,776.39h63.23v3.21h-63.23zM384.40,790.41h63.23v8.82h-63.23zM384.40,832.49h63.23v2.81h-63.23zM447.23,479.02h63.23v3.21h-63.23zM447.23,487.44h63.23v3.21h-63.23zM447.23,495.85h63.23v3.21h-63.23zM447.23,518.30h63.23v6.01h-63.23zM447.23,529.52h63.23v3.21h-63.23zM447.23,535.13h63.23v3.21h-63.23zM447.23,549.15h63.23v6.01h-63.23zM447.23,560.38h63.23v3.21h-63.23zM447.23,588.43h63.23v3.21h-63.23zM447.23,596.85h63.23v3.21h-63.23zM447.23,605.26h63.23v3.21h-63.23zM447.23,616.48h63.23v3.21h-63.23zM447.23,678.20h63.23v6.01h-63.23zM447.23,709.06h63.23v3.21h-63.23zM447.23,723.09h63.23v8.82h-63.23zM447.23,734.31h63.23v3.21h-63.23zM447.23,756.75h63.23v8.82h-63.23zM510.05,473.41h63.23v3.21h-63.23zM510.05,481.83h63.23v6.01h-63.23zM510.05,495.85h63.23v3.21h-63.23zM510.05,509.88h63.23v3.21h-63.23zM510.05,521.10h63.23v3.21h-63.23zM510.05,529.52h63.23v6.01h-63.23zM510.05,540.74h63.23v8.82h-63.23zM510.05,577.21h63.23v6.01h-63.23zM510.05,596.85h63.23v6.01h-63.23zM510.05,608.07h63.23v3.21h-63.23zM510.05,616.48h63.23v3.21h-63.23zM510.05,636.12h63.23v8.82h-63.23zM510.05,666.98h63.23v3.21h-63.23zM510.05,678.20h63.23v8.82h-63.23zM510.05,692.23h63.23v3.21h-63.23zM510.05,703.45h63.23v3.21h-63.23zM510.05,709.06h63.23v3.21h-63.23zM510.05,717.48h63.23v3.21h-63.23zM510.05,725.89h63.23v3.21h-63.23zM510.05,742.72h63.23v3.21h-63.23zM510.05,765.17h63.23v3.21h-63.23zM510.05,770.78h63.23v3.21h-63.23zM572.88,467.80h62.83v6.01h-62.83zM572.88,476.22h62.83v3.21h-62.83zM572.88,481.83h62.83v6.01h-62.83zM572.88,490.24h62.83v6.01h-62.83zM572.88,498.66h62.83v11.62h-62.83zM572.88,512.69h62.83v3.21h-62.83zM572.88,523.91h62.83v3.21h-62.83zM572.88,537.93h62.83v3.21h-62.83zM572.88,543.54h62.83v3.21h-62.83zM572.88,551.96h62.83v8.82h-62.83zM572.88,565.99h62.83v11.62h-62.83zM572.88,580.01h62.83v11.62h-62.83zM572.88,594.04h62.83v3.21h-62.83zM572.88,602.46h62.83v3.21h-62.83zM572.88,608.07h62.83v8.82h-62.83zM572.88,619.29h62.83v22.84h-62.83zM572.88,644.54h62.83v8.82h-62.83zM572.88,658.56h62.83v8.82h-62.83zM572.88,672.59h62.83v6.01h-62.83zM572.88,681.01h62.83v11.62h-62.83zM572.88,695.03h62.83v14.43h-62.83zM572.88,711.86h62.83v6.01h-62.83zM572.88,725.89h62.83v8.82h-62.83z"/>
<path fill="#2E1098" d="M129.10,937.96h63.34v6.16h-63.34zM129.10,946.59h63.34v3.28h-63.34zM129.10,952.35h63.34v3.28h-63.34zM129.10,963.86h63.34v3.28h-63.34zM129.10,978.25h63.34v9.03h-63.34zM129.10,995.52h63.34v6.16h-63.34zM129.10,1004.15h63.34v3.28h-63.34zM129.10,1018.54h63.34v9.03h-63.34zM129.10,1030.06h63.34v3.28h-63.34zM129.10,1050.20h63.34v9.03h-63.34zM129.10,1070.35h63.34v6.16h-63.34zM129.10,1078.98h63.34v6.16h-63.34zM129.10,1090.50h63.34v3.28h-63.34zM129.10,1096.25h63.34v9.03h-63.34zM129.10,1136.55h63.34v6.16h-63.34zM129.10,1148.06h63.34v6.16h-63.34zM129.10,1156.69h63.34v6.16h-63.34zM129.10,1165.33h63.34v3.28h-63.34zM129.10,1185.47h63.34v3.28h-63.34zM129.10,1251.67h63.34v3.28h-63.34zM129.10,1257.43h63.34v3.28h-63.34zM129.10,1280.45h63.34v3.28h-63.34zM192.04,937.96h63.34v6.16h-63.34zM192.04,946.59h63.34v9.03h-63.34zM192.04,972.49h63.34v6.16h-63.34zM192.04,981.13h63.34v3.28h-63.34zM192.04,1038.69h63.34v6.16h-63.34zM192.04,1047.33h63.34v6.16h-63.34zM192.04,1061.72h63.34v3.28h-63.34zM192.04,1104.89h63.34v6.16h-63.34zM192.04,1113.52h63.34v6.16h-63.34zM192.04,1122.16h63.34v3.28h-63.34zM192.04,1173.96h63.34v3.28h-63.34zM192.04,1211.38h63.34v3.28h-63.34zM192.04,1245.92h63.34v3.28h-63.34zM254.97,932.20h63.34v6.16h-63.34zM254.97,958.10h63.34v3.28h-63.34zM254.97,986.88h63.34v11.91h-63.34zM254.97,1004.15h63.34v3.28h-63.34zM254.97,1032.93h63.34v3.28h-63.34zM254.97,1047.33h63.34v3.28h-63.34zM254.97,1076.11h63.34v3.28h-63.34zM254.97,1110.64h63.34v3.28h-63.34zM254.97,1116.40h63.34v3.28h-63.34zM254.97,1130.79h63.34v3.28h-63.34zM254.97,1142.30h63.34v3.28h-63.34zM254.97,1153.82h63.34v3.28h-63.34zM254.97,1173.96h63.34v3.28h-63.34zM254.97,1188.35h63.34v3.28h-63.34zM254.97,1196.99h63.34v3.28h-63.34zM254.97,1205.62h63.34v3.28h-63.34zM254.97,1231.52h63.34v3.28h-63.34zM254.97,1248.79h63.34v3.28h-63.34zM254.97,1268.94h63.34v6.16h-63.34zM254.97,1283.33h63.34v3.28h-63.34zM317.91,955.23h63.34v6.16h-63.34zM317.91,966.74h63.34v9.03h-63.34zM317.91,998.40h63.34v3.28h-63.34zM317.91,1044.45h63.34v3.28h-63.34zM317.91,1064.59h63.34v3.28h-63.34zM317.91,1087.62h63.34v6.16h-63.34zM317.91,1096.25h63.34v3.28h-63.34zM317.91,1125.03h63.34v3.28h-63.34zM317.91,1133.67h63.34v3.28h-63.34zM317.91,1286.21h63.34v3.28h-63.34zM380.85,955.23h63.34v3.28h-63.34zM380.85,960.98h63.34v3.28h-63.34zM380.85,966.74h63.34v3.28h-63.34zM380.85,1015.67h63.34v3.28h-63.34zM380.85,1027.18h63.34v3.28h-63.34zM380.85,1067.47h63.34v3.28h-63.34zM380.85,1113.52h63.34v3.28h-63.34zM380.85,1127.91h63.34v3.28h-63.34zM380.85,1182.60h63.34v3.28h-63.34zM380.85,1199.87h63.34v3.28h-63.34zM443.79,1012.79h63.34v3.28h-63.34zM443.79,1093.38h63.34v3.28h-63.34zM443.79,1113.52h63.34v3.28h-63.34zM443.79,1145.18h63.34v3.28h-63.34zM443.79,1162.45h63.34v3.28h-63.34zM443.79,1171.08h63.34v3.28h-63.34zM443.79,1202.74h63.34v3.28h-63.34zM443.79,1220.01h63.34v3.28h-63.34zM443.79,1228.65h63.34v3.28h-63.34zM443.79,1234.40h63.34v3.28h-63.34zM443.79,1277.57h63.34v3.28h-63.34zM443.79,1286.21h63.34v6.16h-63.34zM506.73,1090.50h63.34v3.28h-63.34zM506.73,1125.03h63.34v3.28h-63.34zM506.73,1176.84h63.34v3.28h-63.34zM506.73,1205.62h63.34v3.28h-63.34zM506.73,1214.26h63.34v3.28h-63.34zM506.73,1237.28h63.34v3.28h-63.34zM506.73,1260.31h63.34v6.16h-63.34zM569.66,1067.47h62.94v3.28h-62.94zM569.66,1084.74h62.94v3.28h-62.94zM569.66,1130.79h62.94v3.28h-62.94zM569.66,1168.21h62.94v3.28h-62.94zM569.66,1194.11h62.94v3.28h-62.94zM569.66,1208.50h62.94v3.28h-62.94zM569.66,1217.13h62.94v3.28h-62.94zM569.66,1222.89h62.94v6.16h-62.94zM569.66,1240.16h62.94v6.16h-62.94zM569.66,1248.79h62.94v3.28h-62.94zM569.66,1274.70h62.94v3.28h-62.94zM569.66,1291.97h62.94v8.63h-62.94z"/>
<path fill="#3A22CC" d="M129.10,949.47h63.34v3.28h-63.34zM129.10,969.62h63.34v3.28h-63.34zM129.10,1001.27h63.34v3.28h-63.34zM129.10,1007.03h63.34v3.28h-63.34zM129.10,1015.67h63.34v3.28h-63.34zM129.10,1032.93h63.34v6.16h-63.34zM129.10,1061.72h63.34v6.16h-63.34zM129.10,1116.40h63.34v6.16h-63.34zM129.10,1127.91h63.34v3.28h-63.34zM129.10,1168.21h63.34v3.28h-63.34zM129.10,1173.96h63.34v9.03h-63.34zM129.10,1191.23h63.34v3.28h-63.34zM129.10,1208.50h63.34v3.28h-63.34zM192.04,984.01h63.34v3.28h-63.34zM192.04,998.40h63.34v11.91h-63.34zM192.04,1015.67h63.34v6.16h-63.34zM192.04,1035.81h63.34v3.28h-63.34zM192.04,1058.84h63.34v3.28h-63.34zM192.04,1087.62h63.34v3.28h-63.34zM192.04,1119.28h63.34v3.28h-63.34zM192.04,1220.01h63.34v6.16h-63.34zM254.97,937.96h63.34v3.28h-63.34zM254.97,943.71h63.34v11.91h-63.34zM254.97,984.01h63.34v3.28h-63.34zM254.97,1007.03h63.34v6.16h-63.34zM254.97,1015.67h63.34v3.28h-63.34zM254.97,1021.42h63.34v3.28h-63.34zM254.97,1078.98h63.34v6.16h-63.34zM254.97,1133.67h63.34v3.28h-63.34zM254.97,1251.67h63.34v6.16h-63.34zM254.97,1297.72h63.34v2.88h-63.34zM317.91,946.59h63.34v6.16h-63.34zM317.91,981.13h63.34v6.16h-63.34zM317.91,992.64h63.34v3.28h-63.34zM317.91,1009.91h63.34v3.28h-63.34zM317.91,1015.67h63.34v3.28h-63.34zM317.91,1050.20h63.34v3.28h-63.34zM317.91,1176.84h63.34v3.28h-63.34zM317.91,1182.60h63.34v3.28h-63.34zM317.91,1208.50h63.34v3.28h-63.34zM317.91,1268.94h63.34v3.28h-63.34zM380.85,946.59h63.34v3.28h-63.34zM380.85,963.86h63.34v3.28h-63.34zM380.85,969.62h63.34v3.28h-63.34zM380.85,984.01h63.34v3.28h-63.34zM380.85,1007.03h63.34v3.28h-63.34zM380.85,1099.13h63.34v3.28h-63.34zM380.85,1176.84h63.34v6.16h-63.34zM380.85,1254.55h63.34v3.28h-63.34zM443.79,960.98h63.34v3.28h-63.34zM443.79,1196.99h63.34v3.28h-63.34zM443.79,1266.06h63.34v3.28h-63.34zM506.73,1251.67h63.34v6.16h-63.34zM569.66,972.49h62.94v3.28h-62.94zM569.66,1099.13h62.94v3.28h-62.94zM569.66,1251.67h62.94v3.28h-62.94zM569.66,1268.94h62.94v3.28h-62.94zM569.66,1286.21h62.94v6.16h-62.94z"/>
<path fill="#4844EE" d="M129.10,935.08h63.34v3.28h-63.34zM129.10,955.23h63.34v6.16h-63.34zM129.10,992.64h63.34v3.28h-63.34zM129.10,1038.69h63.34v3.28h-63.34zM129.10,1067.47h63.34v3.28h-63.34zM129.10,1153.82h63.34v3.28h-63.34zM129.10,1188.35h63.34v3.28h-63.34zM192.04,932.20h63.34v3.28h-63.34zM192.04,978.25h63.34v3.28h-63.34zM192.04,992.64h63.34v3.28h-63.34zM192.04,1021.42h63.34v3.28h-63.34zM192.04,1027.18h63.34v9.03h-63.34zM192.04,1055.96h63.34v3.28h-63.34zM192.04,1064.59h63.34v6.16h-63.34zM192.04,1078.98h63.34v6.16h-63.34zM192.04,1136.55h63.34v6.16h-63.34zM192.04,1168.21h63.34v6.16h-63.34zM192.04,1176.84h63.34v3.28h-63.34zM254.97,940.83h63.34v3.28h-63.34zM254.97,963.86h63.34v6.16h-63.34zM254.97,978.25h63.34v6.16h-63.34zM254.97,998.40h63.34v6.16h-63.34zM254.97,1030.06h63.34v3.28h-63.34zM254.97,1035.81h63.34v3.28h-63.34zM254.97,1050.20h63.34v6.16h-63.34zM254.97,1073.23h63.34v3.28h-63.34zM254.97,1084.74h63.34v3.28h-63.34zM254.97,1090.50h63.34v3.28h-63.34zM254.97,1119.28h63.34v9.03h-63.34zM254.97,1176.84h63.34v6.16h-63.34zM254.97,1191.23h63.34v3.28h-63.34zM254.97,1263.18h63.34v6.16h-63.34zM317.91,935.08h63.34v6.16h-63.34zM317.91,943.71h63.34v3.28h-63.34zM317.91,978.25h63.34v3.28h-63.34zM317.91,995.52h63.34v3.28h-63.34zM317.91,1001.27h63.34v9.03h-63.34zM317.91,1021.42h63.34v3.28h-63.34zM317.91,1027.18h63.34v3.28h-63.34zM317.91,1032.93h63.34v6.16h-63.34zM317.91,1041.57h63.34v3.28h-63.34zM317.91,1047.33h63.34v3.28h-63.34zM317.91,1055.96h63.34v9.03h-63.34zM317.91,1067.47h63.34v3.28h-63.34zM317.91,1073.23h63.34v3.28h-63.34zM317.91,1078.98h63.34v3.28h-63.34zM317.91,1084.74h63.34v3.28h-63.34zM317.91,1214.26h63.34v3.28h-63.34zM380.85,935.08h63.34v3.28h-63.34zM380.85,940.83h63.34v6.16h-63.34zM380.85,972.49h63.34v6.16h-63.34zM380.85,981.13h63.34v3.28h-63.34zM380.85,992.64h63.34v6.16h-63.34zM380.85,1093.38h63.34v6.16h-63.34zM380.85,1130.79h63.34v6.16h-63.34zM380.85,1168.21h63.34v3.28h-63.34zM380.85,1220.01h63.34v3.28h-63.34zM443.79,955.23h63.34v3.28h-63.34zM443.79,1015.67h63.34v3.28h-63.34zM443.79,1107.77h63.34v3.28h-63.34zM443.79,1237.28h63.34v3.28h-63.34zM506.73,1122.16h63.34v3.28h-63.34zM506.73,1179.72h63.34v6.16h-63.34zM506.73,1286.21h63.34v6.16h-63.34zM569.66,1004.15h62.94v3.28h-62.94zM569.66,1035.81h62.94v3.28h-62.94zM569.66,1047.33h62.94v3.28h-62.94zM569.66,1055.96h62.94v6.16h-62.94zM569.66,1076.11h62.94v3.28h-62.94zM569.66,1173.96h62.94v6.16h-62.94zM569.66,1191.23h62.94v3.28h-62.94zM569.66,1220.01h62.94v3.28h-62.94zM569.66,1245.92h62.94v3.28h-62.94zM569.66,1280.45h62.94v6.16h-62.94z"/>
<path fill="#4E6EF0" d="M129.10,989.76h63.34v3.28h-63.34zM129.10,1012.79h63.34v3.28h-63.34zM129.10,1047.33h63.34v3.28h-63.34zM129.10,1058.84h63.34v3.28h-63.34zM129.10,1076.11h63.34v3.28h-63.34zM129.10,1084.74h63.34v6.16h-63.34zM129.10,1122.16h63.34v3.28h-63.34zM129.10,1130.79h63.34v3.28h-63.34zM192.04,935.08h63.34v3.28h-63.34zM192.04,943.71h63.34v3.28h-63.34zM192.04,958.10h63.34v9.03h-63.34zM192.04,989.76h63.34v3.28h-63.34zM192.04,1053.08h63.34v3.28h-63.34zM192.04,1084.74h63.34v3.28h-63.34zM192.04,1096.25h63.34v9.03h-63.34zM192.04,1130.79h63.34v6.16h-63.34zM192.04,1159.57h63.34v3.28h-63.34zM192.04,1191.23h63.34v3.28h-63.34zM192.04,1243.04h63.34v3.28h-63.34zM192.04,1251.67h63.34v3.28h-63.34zM254.97,955.23h63.34v3.28h-63.34zM254.97,969.62h63.34v9.03h-63.34zM254.97,1012.79h63.34v3.28h-63.34zM254.97,1018.54h63.34v3.28h-63.34zM254.97,1038.69h63.34v3.28h-63.34zM254.97,1055.96h63.34v14.79h-63.34zM254.97,1087.62h63.34v3.28h-63.34zM254.97,1093.38h63.34v6.16h-63.34zM254.97,1107.77h63.34v3.28h-63.34zM254.97,1148.06h63.34v3.28h-63.34zM254.97,1156.69h63.34v3.28h-63.34zM254.97,1171.08h63.34v3.28h-63.34zM254.97,1208.50h63.34v6.16h-63.34zM254.97,1274.70h63.34v3.28h-63.34zM317.91,932.20h63.34v3.28h-63.34zM317.91,940.83h63.34v3.28h-63.34zM317.91,952.35h63.34v3.28h-63.34zM317.91,960.98h63.34v6.16h-63.34zM317.91,1030.06h63.34v3.28h-63.34zM317.91,1053.08h63.34v3.28h-63.34zM317.91,1093.38h63.34v3.28h-63.34zM317.91,1104.89h63.34v3.28h-63.34zM317.91,1116.40h63.34v9.03h-63.34zM317.91,1127.91h63.34v6.16h-63.34zM317.91,1136.55h63.34v3.28h-63.34zM317.91,1142.30h63.34v6.16h-63.34zM317.91,1150.94h63.34v6.16h-63.34zM317.91,1179.72h63.34v3.28h-63.34zM317.91,1217.13h63.34v3.28h-63.34zM380.85,937.96h63.34v3.28h-63.34zM380.85,978.25h63.34v3.28h-63.34zM380.85,1009.91h63.34v6.16h-63.34zM380.85,1024.30h63.34v3.28h-63.34zM380.85,1035.81h63.34v3.28h-63.34zM380.85,1050.20h63.34v3.28h-63.34zM380.85,1055.96h63.34v3.28h-63.34zM380.85,1073.23h63.34v3.28h-63.34zM380.85,1104.89h63.34v9.03h-63.34zM380.85,1145.18h63.34v3.28h-63.34zM380.85,1208.50h63.34v3.28h-63.34zM380.85,1214.26h63.34v6.16h-63.34zM380.85,1263.18h63.34v3.28h-63.34zM443.79,943.71h63.34v3.28h-63.34zM443.79,963.86h63.34v6.16h-63.34zM443.79,972.49h63.34v3.28h-63.34zM443.79,984.01h63.34v6.16h-63.34zM443.79,1047.33h63.34v3.28h-63.34zM443.79,1053.08h63.34v3.28h-63.34zM443.79,1110.64h63.34v3.28h-63.34zM443.79,1182.60h63.34v9.03h-63.34zM443.79,1271.82h63.34v3.28h-63.34zM506.73,1087.62h63.34v3.28h-63.34zM506.73,1171.08h63.34v3.28h-63.34zM506.73,1185.47h63.34v9.03h-63.34zM506.73,1199.87h63.34v3.28h-63.34zM506.73,1208.50h63.34v6.16h-63.34zM506.73,1222.89h63.34v3.28h-63.34zM506.73,1268.94h63.34v3.28h-63.34zM506.73,1283.33h63.34v3.28h-63.34zM506.73,1294.84h63.34v5.76h-63.34zM569.66,992.64h62.94v3.28h-62.94zM569.66,1015.67h62.94v3.28h-62.94zM569.66,1050.20h62.94v3.28h-62.94zM569.66,1078.98h62.94v3.28h-62.94zM569.66,1136.55h62.94v9.03h-62.94zM569.66,1150.94h62.94v3.28h-62.94zM569.66,1196.99h62.94v3.28h-62.94zM569.66,1202.74h62.94v3.28h-62.94zM569.66,1231.52h62.94v6.16h-62.94zM569.66,1257.43h62.94v3.28h-62.94z"/>
<path fill="#5A9CCC" d="M129.10,932.20h63.34v3.28h-63.34zM129.10,943.71h63.34v3.28h-63.34zM129.10,960.98h63.34v3.28h-63.34zM129.10,972.49h63.34v6.16h-63.34zM129.10,1027.18h63.34v3.28h-63.34zM129.10,1110.64h63.34v3.28h-63.34zM129.10,1142.30h63.34v6.16h-63.34zM129.10,1182.60h63.34v3.28h-63.34zM129.10,1194.11h63.34v6.16h-63.34zM129.10,1202.74h63.34v3.28h-63.34zM129.10,1217.13h63.34v9.03h-63.34zM129.10,1291.97h63.34v8.63h-63.34zM192.04,966.74h63.34v6.16h-63.34zM192.04,1073.23h63.34v3.28h-63.34zM192.04,1142.30h63.34v6.16h-63.34zM192.04,1156.69h63.34v3.28h-63.34zM192.04,1165.33h63.34v3.28h-63.34zM192.04,1185.47h63.34v3.28h-63.34zM192.04,1199.87h63.34v3.28h-63.34zM192.04,1208.50h63.34v3.28h-63.34zM192.04,1225.77h63.34v3.28h-63.34zM192.04,1234.40h63.34v3.28h-63.34zM192.04,1248.79h63.34v3.28h-63.34zM192.04,1294.84h63.34v5.76h-63.34zM254.97,1099.13h63.34v9.03h-63.34zM254.97,1113.52h63.34v3.28h-63.34zM254.97,1127.91h63.34v3.28h-63.34zM254.97,1136.55h63.34v6.16h-63.34zM254.97,1150.94h63.34v3.28h-63.34zM254.97,1168.21h63.34v3.28h-63.34zM254.97,1194.11h63.34v3.28h-63.34zM254.97,1217.13h63.34v3.28h-63.34zM254.97,1245.92h63.34v3.28h-63.34zM254.97,1277.57h63.34v3.28h-63.34zM317.91,1038.69h63.34v3.28h-63.34zM317.91,1076.11h63.34v3.28h-63.34zM317.91,1099.13h63.34v3.28h-63.34zM317.91,1110.64h63.34v6.16h-63.34zM317.91,1139.42h63.34v3.28h-63.34zM317.91,1148.06h63.34v3.28h-63.34zM317.91,1194.11h63.34v3.28h-63.34zM317.91,1231.52h63.34v6.16h-63.34zM317.91,1254.55h63.34v3.28h-63.34zM317.91,1274.70h63.34v3.28h-63.34zM317.91,1283.33h63.34v3.28h-63.34zM380.85,952.35h63.34v3.28h-63.34zM380.85,958.10h63.34v3.28h-63.34zM380.85,989.76h63.34v3.28h-63.34zM380.85,998.40h63.34v3.28h-63.34zM380.85,1004.15h63.34v3.28h-63.34zM380.85,1087.62h63.34v3.28h-63.34zM380.85,1159.57h63.34v6.16h-63.34zM380.85,1205.62h63.34v3.28h-63.34zM380.85,1225.77h63.34v3.28h-63.34zM380.85,1240.16h63.34v3.28h-63.34zM380.85,1251.67h63.34v3.28h-63.34zM443.79,940.83h63.34v3.28h-63.34zM443.79,1001.27h63.34v3.28h-63.34zM443.79,1194.11h63.34v3.28h-63.34zM443.79,1243.04h63.34v3.28h-63.34zM443.79,1257.43h63.34v3.28h-63.34zM443.79,1263.18h63.34v3.28h-63.34zM506.73,1001.27h63.34v3.28h-63.34zM506.73,1032.93h63.34v9.03h-63.34zM506.73,1058.84h63.34v6.16h-63.34zM506.73,1136.55h63.34v3.28h-63.34zM506.73,1159.57h63.34v3.28h-63.34zM506.73,1231.52h63.34v3.28h-63.34zM506.73,1271.82h63.34v11.91h-63.34zM569.66,975.37h62.94v11.91h-62.94zM569.66,995.52h62.94v9.03h-62.94zM569.66,1021.42h62.94v3.28h-62.94zM569.66,1061.72h62.94v6.16h-62.94zM569.66,1102.01h62.94v6.16h-62.94zM569.66,1110.64h62.94v3.28h-62.94zM569.66,1116.40h62.94v9.03h-62.94zM569.66,1254.55h62.94v3.28h-62.94zM569.66,1277.57h62.94v3.28h-62.94z"/>
<path fill="#6AB8A0" d="M129.10,1093.38h63.34v3.28h-63.34zM129.10,1104.89h63.34v3.28h-63.34zM129.10,1162.45h63.34v3.28h-63.34zM129.10,1171.08h63.34v3.28h-63.34zM129.10,1199.87h63.34v3.28h-63.34zM129.10,1243.04h63.34v3.28h-63.34zM129.10,1274.70h63.34v6.16h-63.34zM192.04,955.23h63.34v3.28h-63.34zM192.04,995.52h63.34v3.28h-63.34zM192.04,1024.30h63.34v3.28h-63.34zM192.04,1076.11h63.34v3.28h-63.34zM192.04,1125.03h63.34v6.16h-63.34zM192.04,1148.06h63.34v6.16h-63.34zM192.04,1162.45h63.34v3.28h-63.34zM192.04,1179.72h63.34v6.16h-63.34zM192.04,1196.99h63.34v3.28h-63.34zM192.04,1205.62h63.34v3.28h-63.34zM192.04,1217.13h63.34v3.28h-63.34zM192.04,1240.16h63.34v3.28h-63.34zM192.04,1274.70h63.34v6.16h-63.34zM254.97,960.98h63.34v3.28h-63.34zM254.97,1027.18h63.34v3.28h-63.34zM254.97,1145.18h63.34v3.28h-63.34zM254.97,1182.60h63.34v6.16h-63.34zM254.97,1199.87h63.34v6.16h-63.34zM254.97,1220.01h63.34v9.03h-63.34zM254.97,1280.45h63.34v3.28h-63.34zM317.91,975.37h63.34v3.28h-63.34zM317.91,986.88h63.34v6.16h-63.34zM317.91,1024.30h63.34v3.28h-63.34zM317.91,1225.77h63.34v3.28h-63.34zM317.91,1251.67h63.34v3.28h-63.34zM317.91,1263.18h63.34v3.28h-63.34zM317.91,1280.45h63.34v3.28h-63.34zM317.91,1289.09h63.34v3.28h-63.34zM380.85,932.20h63.34v3.28h-63.34zM380.85,949.47h63.34v3.28h-63.34zM380.85,1021.42h63.34v3.28h-63.34zM380.85,1030.06h63.34v3.28h-63.34zM380.85,1041.57h63.34v3.28h-63.34zM380.85,1053.08h63.34v3.28h-63.34zM380.85,1058.84h63.34v3.28h-63.34zM380.85,1090.50h63.34v3.28h-63.34zM380.85,1122.16h63.34v3.28h-63.34zM380.85,1136.55h63.34v3.28h-63.34zM380.85,1148.06h63.34v6.16h-63.34zM380.85,1191.23h63.34v9.03h-63.34zM380.85,1248.79h63.34v3.28h-63.34zM380.85,1286.21h63.34v3.28h-63.34zM443.79,946.59h63.34v3.28h-63.34zM443.79,952.35h63.34v3.28h-63.34zM443.79,958.10h63.34v3.28h-63.34zM443.79,975.37h63.34v3.28h-63.34zM443.79,989.76h63.34v6.16h-63.34zM443.79,1024.30h63.34v3.28h-63.34zM443.79,1050.20h63.34v3.28h-63.34zM443.79,1055.96h63.34v3.28h-63.34zM443.79,1073.23h63.34v6.16h-63.34zM443.79,1081.86h63.34v3.28h-63.34zM443.79,1099.13h63.34v3.28h-63.34zM443.79,1116.40h63.34v3.28h-63.34zM443.79,1199.87h63.34v3.28h-63.34zM443.79,1205.62h63.34v3.28h-63.34zM443.79,1222.89h63.34v6.16h-63.34zM443.79,1274.70h63.34v3.28h-63.34zM443.79,1283.33h63.34v3.28h-63.34zM506.73,1027.18h63.34v3.28h-63.34zM506.73,1110.64h63.34v6.16h-63.34zM506.73,1130.79h63.34v3.28h-63.34zM506.73,1142.30h63.34v9.03h-63.34zM506.73,1173.96h63.34v3.28h-63.34zM506.73,1245.92h63.34v3.28h-63.34zM569.66,935.08h62.94v3.28h-62.94zM569.66,949.47h62.94v3.28h-62.94zM569.66,958.10h62.94v9.03h-62.94zM569.66,1012.79h62.94v3.28h-62.94zM569.66,1030.06h62.94v6.16h-62.94zM569.66,1038.69h62.94v3.28h-62.94zM569.66,1053.08h62.94v3.28h-62.94zM569.66,1096.25h62.94v3.28h-62.94zM569.66,1127.91h62.94v3.28h-62.94zM569.66,1148.06h62.94v3.28h-62.94zM569.66,1228.65h62.94v3.28h-62.94zM569.66,1266.06h62.94v3.28h-62.94zM569.66,1271.82h62.94v3.28h-62.94z"/>
<path fill="#98C050" d="M129.10,1009.91h63.34v3.28h-63.34zM129.10,1125.03h63.34v3.28h-63.34zM129.10,1205.62h63.34v3.28h-63.34zM129.10,1234.40h63.34v3.28h-63.34zM192.04,986.88h63.34v3.28h-63.34zM192.04,1009.91h63.34v6.16h-63.34zM192.04,1153.82h63.34v3.28h-63.34zM192.04,1194.11h63.34v3.28h-63.34zM192.04,1231.52h63.34v3.28h-63.34zM192.04,1257.43h63.34v3.28h-63.34zM192.04,1263.18h63.34v3.28h-63.34zM192.04,1291.97h63.34v3.28h-63.34zM254.97,1024.30h63.34v3.28h-63.34zM254.97,1041.57h63.34v3.28h-63.34zM254.97,1234.40h63.34v6.16h-63.34zM254.97,1257.43h63.34v6.16h-63.34zM254.97,1286.21h63.34v3.28h-63.34zM254.97,1291.97h63.34v6.16h-63.34zM317.91,1102.01h63.34v3.28h-63.34zM317.91,1168.21h63.34v6.16h-63.34zM317.91,1185.47h63.34v3.28h-63.34zM317.91,1202.74h63.34v3.28h-63.34zM317.91,1237.28h63.34v6.16h-63.34zM317.91,1245.92h63.34v3.28h-63.34zM317.91,1260.31h63.34v3.28h-63.34zM317.91,1294.84h63.34v5.76h-63.34zM380.85,1047.33h63.34v3.28h-63.34zM380.85,1070.35h63.34v3.28h-63.34zM380.85,1076.11h63.34v11.91h-63.34zM380.85,1119.28h63.34v3.28h-63.34zM380.85,1171.08h63.34v3.28h-63.34zM380.85,1202.74h63.34v3.28h-63.34zM380.85,1243.04h63.34v3.28h-63.34zM380.85,1257.43h63.34v3.28h-63.34zM380.85,1266.06h63.34v9.03h-63.34zM380.85,1277.57h63.34v3.28h-63.34zM380.85,1297.72h63.34v2.88h-63.34zM443.79,937.96h63.34v3.28h-63.34zM443.79,978.25h63.34v6.16h-63.34zM443.79,1007.03h63.34v3.28h-63.34zM443.79,1027.18h63.34v3.28h-63.34zM443.79,1041.57h63.34v6.16h-63.34zM443.79,1156.69h63.34v6.16h-63.34zM443.79,1211.38h63.34v3.28h-63.34zM443.79,1248.79h63.34v3.28h-63.34zM443.79,1254.55h63.34v3.28h-63.34zM443.79,1294.84h63.34v3.28h-63.34zM506.73,1004.15h63.34v3.28h-63.34zM506.73,1081.86h63.34v3.28h-63.34zM506.73,1139.42h63.34v3.28h-63.34zM506.73,1150.94h63.34v3.28h-63.34zM506.73,1162.45h63.34v3.28h-63.34zM506.73,1196.99h63.34v3.28h-63.34zM506.73,1217.13h63.34v6.16h-63.34zM506.73,1225.77h63.34v6.16h-63.34zM506.73,1234.40h63.34v3.28h-63.34zM506.73,1257.43h63.34v3.28h-63.34zM569.66,952.35h62.94v3.28h-62.94zM569.66,966.74h62.94v6.16h-62.94zM569.66,986.88h62.94v3.28h-62.94zM569.66,1007.03h62.94v6.16h-62.94zM569.66,1041.57h62.94v3.28h-62.94zM569.66,1081.86h62.94v3.28h-62.94zM569.66,1087.62h62.94v9.03h-62.94zM569.66,1185.47h62.94v3.28h-62.94zM569.66,1205.62h62.94v3.28h-62.94zM569.66,1211.38h62.94v6.16h-62.94z"/>
<path fill="#DCAE3A" d="M129.10,1133.67h63.34v3.28h-63.34zM129.10,1228.65h63.34v3.28h-63.34zM129.10,1240.16h63.34v3.28h-63.34zM129.10,1254.55h63.34v3.28h-63.34zM129.10,1271.82h63.34v3.28h-63.34zM129.10,1286.21h63.34v3.28h-63.34zM192.04,1044.45h63.34v3.28h-63.34zM192.04,1070.35h63.34v3.28h-63.34zM192.04,1090.50h63.34v6.16h-63.34zM192.04,1188.35h63.34v3.28h-63.34zM192.04,1228.65h63.34v3.28h-63.34zM192.04,1237.28h63.34v3.28h-63.34zM192.04,1289.09h63.34v3.28h-63.34zM254.97,1044.45h63.34v3.28h-63.34zM254.97,1159.57h63.34v9.03h-63.34zM254.97,1240.16h63.34v6.16h-63.34zM317.91,1012.79h63.34v3.28h-63.34zM317.91,1018.54h63.34v3.28h-63.34zM317.91,1070.35h63.34v3.28h-63.34zM317.91,1107.77h63.34v3.28h-63.34zM317.91,1156.69h63.34v9.03h-63.34zM317.91,1173.96h63.34v3.28h-63.34zM317.91,1188.35h63.34v6.16h-63.34zM317.91,1199.87h63.34v3.28h-63.34zM317.91,1222.89h63.34v3.28h-63.34zM317.91,1228.65h63.34v3.28h-63.34zM317.91,1248.79h63.34v3.28h-63.34zM317.91,1291.97h63.34v3.28h-63.34zM380.85,986.88h63.34v3.28h-63.34zM380.85,1018.54h63.34v3.28h-63.34zM380.85,1032.93h63.34v3.28h-63.34zM380.85,1038.69h63.34v3.28h-63.34zM380.85,1044.45h63.34v3.28h-63.34zM380.85,1061.72h63.34v6.16h-63.34zM380.85,1102.01h63.34v3.28h-63.34zM380.85,1125.03h63.34v3.28h-63.34zM380.85,1165.33h63.34v3.28h-63.34zM380.85,1211.38h63.34v3.28h-63.34zM380.85,1228.65h63.34v3.28h-63.34zM380.85,1237.28h63.34v3.28h-63.34zM380.85,1245.92h63.34v3.28h-63.34zM380.85,1260.31h63.34v3.28h-63.34zM380.85,1280.45h63.34v3.28h-63.34zM380.85,1289.09h63.34v3.28h-63.34zM443.79,932.20h63.34v6.16h-63.34zM443.79,949.47h63.34v3.28h-63.34zM443.79,998.40h63.34v3.28h-63.34zM443.79,1018.54h63.34v3.28h-63.34zM443.79,1030.06h63.34v3.28h-63.34zM443.79,1064.59h63.34v3.28h-63.34zM443.79,1084.74h63.34v3.28h-63.34zM443.79,1125.03h63.34v3.28h-63.34zM443.79,1142.30h63.34v3.28h-63.34zM443.79,1231.52h63.34v3.28h-63.34zM443.79,1240.16h63.34v3.28h-63.34zM443.79,1268.94h63.34v3.28h-63.34zM443.79,1280.45h63.34v3.28h-63.34zM443.79,1291.97h63.34v3.28h-63.34zM506.73,937.96h63.34v3.28h-63.34zM506.73,969.62h63.34v3.28h-63.34zM506.73,995.52h63.34v3.28h-63.34zM506.73,1009.91h63.34v3.28h-63.34zM506.73,1041.57h63.34v6.16h-63.34zM506.73,1064.59h63.34v9.03h-63.34zM506.73,1078.98h63.34v3.28h-63.34zM506.73,1104.89h63.34v6.16h-63.34zM506.73,1116.40h63.34v6.16h-63.34zM506.73,1127.91h63.34v3.28h-63.34zM506.73,1133.67h63.34v3.28h-63.34zM506.73,1153.82h63.34v6.16h-63.34zM506.73,1248.79h63.34v3.28h-63.34zM506.73,1266.06h63.34v3.28h-63.34zM506.73,1291.97h63.34v3.28h-63.34zM569.66,943.71h62.94v6.16h-62.94zM569.66,1018.54h62.94v3.28h-62.94zM569.66,1107.77h62.94v3.28h-62.94zM569.66,1113.52h62.94v3.28h-62.94zM569.66,1133.67h62.94v3.28h-62.94zM569.66,1179.72h62.94v3.28h-62.94zM569.66,1237.28h62.94v3.28h-62.94zM569.66,1260.31h62.94v6.16h-62.94z"/>
<path fill="#F2D83A" d="M129.10,986.88h63.34v3.28h-63.34zM129.10,1044.45h63.34v3.28h-63.34zM129.10,1211.38h63.34v6.16h-63.34zM129.10,1268.94h63.34v3.28h-63.34zM129.10,1283.33h63.34v3.28h-63.34zM192.04,1202.74h63.34v3.28h-63.34zM192.04,1214.26h63.34v3.28h-63.34zM192.04,1254.55h63.34v3.28h-63.34zM192.04,1260.31h63.34v3.28h-63.34zM192.04,1271.82h63.34v3.28h-63.34zM192.04,1283.33h63.34v3.28h-63.34zM254.97,1214.26h63.34v3.28h-63.34zM254.97,1228.65h63.34v3.28h-63.34zM254.97,1289.09h63.34v3.28h-63.34zM317.91,1196.99h63.34v3.28h-63.34zM317.91,1205.62h63.34v3.28h-63.34zM317.91,1211.38h63.34v3.28h-63.34zM317.91,1220.01h63.34v3.28h-63.34zM317.91,1243.04h63.34v3.28h-63.34zM317.91,1257.43h63.34v3.28h-63.34zM317.91,1266.06h63.34v3.28h-63.34zM317.91,1271.82h63.34v3.28h-63.34zM317.91,1277.57h63.34v3.28h-63.34zM380.85,1001.27h63.34v3.28h-63.34zM380.85,1153.82h63.34v3.28h-63.34zM380.85,1173.96h63.34v3.28h-63.34zM380.85,1222.89h63.34v3.28h-63.34zM380.85,1283.33h63.34v3.28h-63.34zM443.79,1070.35h63.34v3.28h-63.34zM443.79,1078.98h63.34v3.28h-63.34zM443.79,1096.25h63.34v3.28h-63.34zM443.79,1208.50h63.34v3.28h-63.34zM443.79,1217.13h63.34v3.28h-63.34zM443.79,1245.92h63.34v3.28h-63.34zM443.79,1260.31h63.34v3.28h-63.34zM506.73,932.20h63.34v3.28h-63.34zM506.73,955.23h63.34v3.28h-63.34zM506.73,1024.30h63.34v3.28h-63.34zM506.73,1165.33h63.34v6.16h-63.34zM506.73,1202.74h63.34v3.28h-63.34zM569.66,932.20h62.94v3.28h-62.94zM569.66,1070.35h62.94v6.16h-62.94zM569.66,1125.03h62.94v3.28h-62.94zM569.66,1153.82h62.94v6.16h-62.94zM569.66,1171.08h62.94v3.28h-62.94zM569.66,1182.60h62.94v3.28h-62.94zM569.66,1199.87h62.94v3.28h-62.94z"/>
<path fill="#F5FA38" d="M129.10,966.74h63.34v3.28h-63.34zM129.10,1041.57h63.34v3.28h-63.34zM129.10,1107.77h63.34v3.28h-63.34zM129.10,1113.52h63.34v3.28h-63.34zM129.10,1225.77h63.34v3.28h-63.34zM129.10,1231.52h63.34v3.28h-63.34zM129.10,1237.28h63.34v3.28h-63.34zM129.10,1245.92h63.34v6.16h-63.34zM129.10,1260.31h63.34v9.03h-63.34zM129.10,1289.09h63.34v3.28h-63.34zM192.04,1110.64h63.34v3.28h-63.34zM192.04,1266.06h63.34v6.16h-63.34zM192.04,1280.45h63.34v3.28h-63.34zM192.04,1286.21h63.34v3.28h-63.34zM254.97,1070.35h63.34v3.28h-63.34zM317.91,1081.86h63.34v3.28h-63.34zM317.91,1165.33h63.34v3.28h-63.34zM380.85,1116.40h63.34v3.28h-63.34zM380.85,1139.42h63.34v6.16h-63.34zM380.85,1156.69h63.34v3.28h-63.34zM380.85,1185.47h63.34v6.16h-63.34zM380.85,1231.52h63.34v6.16h-63.34zM380.85,1274.70h63.34v3.28h-63.34zM380.85,1291.97h63.34v6.16h-63.34zM443.79,969.62h63.34v3.28h-63.34zM443.79,995.52h63.34v3.28h-63.34zM443.79,1004.15h63.34v3.28h-63.34zM443.79,1009.91h63.34v3.28h-63.34zM443.79,1021.42h63.34v3.28h-63.34zM443.79,1032.93h63.34v9.03h-63.34zM443.79,1058.84h63.34v6.16h-63.34zM443.79,1067.47h63.34v3.28h-63.34zM443.79,1087.62h63.34v6.16h-63.34zM443.79,1102.01h63.34v6.16h-63.34zM443.79,1119.28h63.34v6.16h-63.34zM443.79,1127.91h63.34v14.79h-63.34zM443.79,1148.06h63.34v9.03h-63.34zM443.79,1165.33h63.34v6.16h-63.34zM443.79,1173.96h63.34v9.03h-63.34zM443.79,1191.23h63.34v3.28h-63.34zM443.79,1214.26h63.34v3.28h-63.34zM443.79,1251.67h63.34v3.28h-63.34zM443.79,1297.72h63.34v2.88h-63.34zM506.73,935.08h63.34v3.28h-63.34zM506.73,940.83h63.34v14.79h-63.34zM506.73,958.10h63.34v11.91h-63.34zM506.73,972.49h63.34v23.42h-63.34zM506.73,998.40h63.34v3.28h-63.34zM506.73,1007.03h63.34v3.28h-63.34zM506.73,1012.79h63.34v11.91h-63.34zM506.73,1030.06h63.34v3.28h-63.34zM506.73,1047.33h63.34v11.91h-63.34zM506.73,1073.23h63.34v6.16h-63.34zM506.73,1084.74h63.34v3.28h-63.34zM506.73,1093.38h63.34v11.91h-63.34zM506.73,1194.11h63.34v3.28h-63.34zM506.73,1240.16h63.34v6.16h-63.34zM569.66,937.96h62.94v6.16h-62.94zM569.66,955.23h62.94v3.28h-62.94zM569.66,989.76h62.94v3.28h-62.94zM569.66,1024.30h62.94v6.16h-62.94zM569.66,1044.45h62.94v3.28h-62.94zM569.66,1145.18h62.94v3.28h-62.94zM569.66,1159.57h62.94v9.03h-62.94zM569.66,1188.35h62.94v3.28h-62.94z"/>
<text x="159.2" y="867.3" font-size="29" text-anchor="middle" font-weight="normal" fill="#000">1</text>
<text x="157.6" y="1337.6" font-size="29" text-anchor="middle" font-weight="normal" fill="#000">1</text>
<text x="223.6" y="867.3" font-size="29" text-anchor="middle" font-weight="normal" fill="#000">2</text>
<text x="221.9" y="1337.6" font-size="29" text-anchor="middle" font-weight="normal" fill="#000">2</text>
<text x="288.0" y="867.3" font-size="29" text-anchor="middle" font-weight="normal" fill="#000">3</text>
<text x="286.2" y="1337.6" font-size="29" text-anchor="middle" font-weight="normal" fill="#000">3</text>
<text x="352.4" y="867.3" font-size="29" text-anchor="middle" font-weight="normal" fill="#000">4</text>
<text x="350.5" y="1337.6" font-size="29" text-anchor="middle" font-weight="normal" fill="#000">4</text>
<text x="416.8" y="867.3" font-size="29" text-anchor="middle" font-weight="normal" fill="#000">5</text>
<text x="414.8" y="1337.6" font-size="29" text-anchor="middle" font-weight="normal" fill="#000">5</text>
<text x="481.2" y="867.3" font-size="29" text-anchor="middle" font-weight="normal" fill="#000">6</text>
<text x="479.1" y="1337.6" font-size="29" text-anchor="middle" font-weight="normal" fill="#000">6</text>
<text x="545.6" y="867.3" font-size="29" text-anchor="middle" font-weight="normal" fill="#000">7</text>
<text x="543.4" y="1337.6" font-size="29" text-anchor="middle" font-weight="normal" fill="#000">7</text>
<text x="610.0" y="867.3" font-size="29" text-anchor="middle" font-weight="normal" fill="#000">8</text>
<text x="607.7" y="1337.6" font-size="29" text-anchor="middle" font-weight="normal" fill="#000">8</text>
<text x="383.9" y="900" font-size="29.2" text-anchor="middle" font-weight="normal" fill="#000">Cursor position</text>
<text x="381" y="1372.8" font-size="29.2" text-anchor="middle" font-weight="normal" fill="#000">Cursor position</text>
<text x="113.5" y="651" font-size="29" text-anchor="middle" font-weight="normal" fill="#000" transform="rotate(-90 113.5 651)">Units</text>
<text x="106" y="1118" font-size="29" text-anchor="middle" font-weight="normal" fill="#000" transform="rotate(-90 106 1118)">Units</text>
<text x="32.7" y="640.8" font-size="43.7" text-anchor="middle" font-weight="normal" fill="#000" transform="rotate(-90 32.7 640.8)">Task tuning</text>
<text x="32.5" y="1138.3" font-size="44.4" text-anchor="middle" font-weight="normal" fill="#000" transform="rotate(-90 32.5 1138.3)">Playback tuning</text>
<defs><linearGradient id="cb" x1="0" y1="1" x2="0" y2="0">
<stop offset="0" stop-color="#2d1674"/><stop offset="0.04" stop-color="#301c96"/><stop offset="0.1" stop-color="#3a2cc4"/>
<stop offset="0.17" stop-color="#3c4cd8"/><stop offset="0.25" stop-color="#4468d4"/><stop offset="0.33" stop-color="#4f86c8"/>
<stop offset="0.42" stop-color="#5a9eae"/><stop offset="0.5" stop-color="#6cb08c"/><stop offset="0.6" stop-color="#8fb562"/>
<stop offset="0.7" stop-color="#b8ae50"/><stop offset="0.78" stop-color="#dca642"/><stop offset="0.84" stop-color="#e8b040"/>
<stop offset="0.92" stop-color="#f0d63e"/><stop offset="1" stop-color="#f4f63c"/></linearGradient></defs>
<rect x="686.2" y="754.3" width="27.8" height="293" fill="url(#cb)"/>
<text x="729" y="774.5" font-size="25.5" text-anchor="start" font-weight="normal" fill="#444">1</text>
<text x="729" y="1047.5" font-size="25.5" text-anchor="start" font-weight="normal" fill="#444">0</text>
<text x="673.5" y="899.5" font-size="25.5" text-anchor="middle" font-weight="normal" fill="#000" transform="rotate(-90 673.5 899.5)">Normalised response</text>
<path d="M927.6,488.3 V884.5 H1555.8" stroke="#262626" stroke-width="1.6" fill="none"/>
<path d="M927.6,488.3 h7" stroke="#262626" stroke-width="1.6"/>
<text x="914" y="499.90000000000003" font-size="32.5" text-anchor="end" font-weight="normal" fill="#1a1a1a">5</text>
<path d="M927.6,603.4 h7" stroke="#262626" stroke-width="1.6"/>
<text x="914" y="615.0" font-size="32.5" text-anchor="end" font-weight="normal" fill="#1a1a1a">4</text>
<path d="M927.6,718.7 h7" stroke="#262626" stroke-width="1.6"/>
<text x="914" y="730.3000000000001" font-size="32.5" text-anchor="end" font-weight="normal" fill="#1a1a1a">3</text>
<path d="M927.6,834.2 h7" stroke="#262626" stroke-width="1.6"/>
<text x="914" y="845.8000000000001" font-size="32.5" text-anchor="end" font-weight="normal" fill="#1a1a1a">2</text>
<text x="924.6" y="925" font-size="32.5" text-anchor="middle" font-weight="normal" fill="#1a1a1a">0</text>
<path d="M1084.8,884.5 v-7" stroke="#262626" stroke-width="1.6"/>
<text x="1084.8" y="925" font-size="32.5" text-anchor="middle" font-weight="normal" fill="#1a1a1a">2</text>
<path d="M1241.8,884.5 v-7" stroke="#262626" stroke-width="1.6"/>
<text x="1241.8" y="925" font-size="32.5" text-anchor="middle" font-weight="normal" fill="#1a1a1a">4</text>
<path d="M1399.1,884.5 v-7" stroke="#262626" stroke-width="1.6"/>
<text x="1399.1" y="925" font-size="32.5" text-anchor="middle" font-weight="normal" fill="#1a1a1a">6</text>
<path d="M1555.8,884.5 v-7" stroke="#262626" stroke-width="1.6"/>
<text x="1555.8" y="925" font-size="32.5" text-anchor="middle" font-weight="normal" fill="#1a1a1a">8</text>
<text x="1240.5" y="957.5" font-size="36" text-anchor="middle" font-weight="normal" fill="#1a1a1a">Cursor position</text>
<text x="870" y="691.5" font-size="36" text-anchor="middle" font-weight="normal" fill="#1a1a1a" transform="rotate(-90 870 691.5)">Population firing rate (Hz)</text>
<path d="M1006.3,736.2 L1084.8,761.7 L1163.3,728.8 L1241.8,710.2 L1320.4,661.8 L1399.1,583.0 L1477.6,589.1 L1555.8,517.9 L1555.8,570.3 L1477.6,633.6 L1399.1,627.9 L1320.4,698.2 L1241.8,742.8 L1163.3,758.3 L1084.8,789.4 L1006.3,767.4Z" fill="#e9a9ab" fill-opacity="1"/>
<path d="M1006.3,827.5 L1084.8,819.4 L1163.3,820.1 L1241.8,814.0 L1320.4,806.7 L1399.1,774.5 L1477.6,756.7 L1555.8,784.5 L1555.8,816.4 L1477.6,793.6 L1399.1,808.2 L1320.4,833.9 L1241.8,839.8 L1163.3,847.1 L1084.8,845.4 L1006.3,853.3Z" fill="#aca1f8" fill-opacity="1"/>
<path d="M1006.3,750.2 L1084.8,776.0 L1163.3,742.1 L1241.8,726.9 L1320.4,679.4 L1399.1,604.8 L1477.6,611.8 L1555.8,545.2" stroke="#cf4a4c" stroke-width="2.6" fill="none"/>
<path d="M1006.3,839.8 L1084.8,831.2 L1163.3,831.7 L1241.8,825.8 L1320.4,819.4 L1399.1,792.1 L1477.6,775.5 L1555.8,801.2" stroke="#3a12e2" stroke-width="2.6" fill="none"/>
<rect x="990.5" y="498.8" width="27" height="26.8" fill="#e9a9ab"/>
<rect x="990.5" y="533.3" width="27" height="26.8" fill="#aca1f8"/>
<text x="1029.5" y="522.5" font-size="26.5" text-anchor="start" font-weight="normal" fill="#1a1a1a">Task (n = 7 mice, 131 units)</text>
<text x="1029.5" y="558.8" font-size="26.5" text-anchor="start" font-weight="normal" fill="#1a1a1a">Playback (n = 7 mice, 128 units)</text>
<path d="M888.8,1026.9 V1322 H1203.6" stroke="#262626" stroke-width="1.5" fill="none"/>
<path d="M888.8,1059.1 h4" stroke="#262626" stroke-width="1.5"/>
<text x="883" y="1068.3" font-size="26" text-anchor="end" font-weight="normal" fill="#1a1a1a">5</text>
<path d="M888.8,1124.9 h4" stroke="#262626" stroke-width="1.5"/>
<text x="883" y="1134.1000000000001" font-size="26" text-anchor="end" font-weight="normal" fill="#1a1a1a">4</text>
<path d="M888.8,1190.8 h4" stroke="#262626" stroke-width="1.5"/>
<text x="883" y="1200.0" font-size="26" text-anchor="end" font-weight="normal" fill="#1a1a1a">3</text>
<path d="M888.8,1256.7 h4" stroke="#262626" stroke-width="1.5"/>
<text x="883" y="1265.9" font-size="26" text-anchor="end" font-weight="normal" fill="#1a1a1a">2</text>
<text x="883" y="1331.2" font-size="26" text-anchor="end" font-weight="normal" fill="#1a1a1a">1</text>
<path d="M948.0,1322 v-4" stroke="#262626" stroke-width="1.5"/>
<text x="948.0" y="1349.5" font-size="26" text-anchor="middle" font-weight="normal" fill="#1a1a1a">2</text>
<path d="M1026.4,1322 v-4" stroke="#262626" stroke-width="1.5"/>
<text x="1026.4" y="1349.5" font-size="26" text-anchor="middle" font-weight="normal" fill="#1a1a1a">4</text>
<path d="M1104.8,1322 v-4" stroke="#262626" stroke-width="1.5"/>
<text x="1104.8" y="1349.5" font-size="26" text-anchor="middle" font-weight="normal" fill="#1a1a1a">6</text>
<path d="M1183.2,1322 v-4" stroke="#262626" stroke-width="1.5"/>
<text x="1183.2" y="1349.5" font-size="26" text-anchor="middle" font-weight="normal" fill="#1a1a1a">8</text>
<path d="M908.8,1181.5 L948.0,1182.9 L987.2,1170.9 L1026.4,1165.9 L1065.6,1155.1 L1104.8,1115.3 L1144.0,1108.8 L1183.2,1076.0 L1183.2,1125.5 L1144.0,1152.2 L1104.8,1156.3 L1065.6,1189.4 L1026.4,1198.2 L987.2,1203.1 L948.0,1213.4 L908.8,1211.3Z" fill="#e08f91" fill-opacity="0.75"/>
<path d="M908.8,1253.8 L948.0,1252.3 L987.2,1252.9 L1026.4,1252.3 L1065.6,1251.7 L1104.8,1241.5 L1144.0,1230.4 L1183.2,1244.1 L1183.2,1272.0 L1144.0,1261.7 L1104.8,1268.4 L1065.6,1275.8 L1026.4,1276.3 L987.2,1277.2 L948.0,1276.6 L908.8,1278.7Z" fill="#8f80f6" fill-opacity="0.75"/>
<text x="1025.7" y="1005.8" font-size="25" text-anchor="middle" font-weight="normal" fill="#1a1a1a">RS units</text>
<rect x="910.2" y="1021" width="18.3" height="14" fill="#e08f91" fill-opacity="0.75"/>
<rect x="910.2" y="1050.3" width="18.3" height="14" fill="#8f80f6" fill-opacity="0.75"/>
<text x="939.5" y="1036.5" font-size="26" text-anchor="start" font-weight="normal" fill="#1a1a1a">Task, 78 units</text>
<text x="939.5" y="1066" font-size="26" text-anchor="start" font-weight="normal" fill="#1a1a1a">Playback, 77 units</text>
<text x="853.7" y="1165" font-size="26" text-anchor="middle" font-weight="normal" fill="#1a1a1a" transform="rotate(-90 853.7 1165)">Firing rate (Hz)</text>
<text x="1035.2" y="1378.5" font-size="25" text-anchor="middle" font-weight="normal" fill="#1a1a1a">Cursor position</text>
<path d="M1284.9,1025.4 V1321.1 H1600" stroke="#262626" stroke-width="1.5" fill="none"/>
<path d="M1284.9,1057.6 h4" stroke="#262626" stroke-width="1.5"/>
<text x="1273.2" y="1066.8" font-size="26" text-anchor="end" font-weight="normal" fill="#1a1a1a">5</text>
<path d="M1284.9,1123.5 h4" stroke="#262626" stroke-width="1.5"/>
<text x="1273.2" y="1132.7" font-size="26" text-anchor="end" font-weight="normal" fill="#1a1a1a">4</text>
<path d="M1284.9,1189.7 h4" stroke="#262626" stroke-width="1.5"/>
<text x="1273.2" y="1198.9" font-size="26" text-anchor="end" font-weight="normal" fill="#1a1a1a">3</text>
<path d="M1284.9,1255.3 h4" stroke="#262626" stroke-width="1.5"/>
<text x="1273.2" y="1264.5" font-size="26" text-anchor="end" font-weight="normal" fill="#1a1a1a">2</text>
<text x="1273.2" y="1330.3" font-size="26" text-anchor="end" font-weight="normal" fill="#1a1a1a">1</text>
<path d="M1344.0,1321.1 v-4" stroke="#262626" stroke-width="1.5"/>
<text x="1344.0" y="1349.5" font-size="26" text-anchor="middle" font-weight="normal" fill="#1a1a1a">2</text>
<path d="M1422.4,1321.1 v-4" stroke="#262626" stroke-width="1.5"/>
<text x="1422.4" y="1349.5" font-size="26" text-anchor="middle" font-weight="normal" fill="#1a1a1a">4</text>
<path d="M1500.8,1321.1 v-4" stroke="#262626" stroke-width="1.5"/>
<text x="1500.8" y="1349.5" font-size="26" text-anchor="middle" font-weight="normal" fill="#1a1a1a">6</text>
<path d="M1579.2,1321.1 v-4" stroke="#262626" stroke-width="1.5"/>
<text x="1579.2" y="1349.5" font-size="26" text-anchor="middle" font-weight="normal" fill="#1a1a1a">8</text>
<path d="M1304.8,1205.5 L1344.0,1241.5 L1383.2,1217.8 L1422.4,1193.8 L1461.6,1142.5 L1500.8,1090.7 L1540.0,1108.8 L1579.2,1055.5 L1579.2,1132.3 L1540.0,1170.3 L1500.8,1160.7 L1461.6,1203.0 L1422.4,1234.8 L1383.2,1255.3 L1344.0,1275.2 L1304.8,1249.4Z" fill="#e08f91" fill-opacity="0.75"/>
<path d="M1304.8,1218.7 L1344.0,1213.7 L1383.2,1212.8 L1422.4,1211.3 L1461.6,1208.4 L1500.8,1184.4 L1540.0,1178.2 L1579.2,1194.3 L1579.2,1242.1 L1540.0,1230.4 L1500.8,1234.8 L1461.6,1252.3 L1422.4,1254.7 L1383.2,1255.3 L1344.0,1255.8 L1304.8,1259.6Z" fill="#8f80f6" fill-opacity="0.75"/>
<text x="1443.7" y="1005.8" font-size="25" text-anchor="middle" font-weight="normal" fill="#1a1a1a">FS units</text>
<rect x="1306" y="1021" width="18.3" height="14" fill="#e08f91" fill-opacity="0.75"/>
<rect x="1306" y="1050.3" width="18.3" height="14" fill="#8f80f6" fill-opacity="0.75"/>
<text x="1333" y="1036.5" font-size="26" text-anchor="start" font-weight="normal" fill="#1a1a1a">Task, 53 units</text>
<text x="1336" y="1066" font-size="26" text-anchor="start" font-weight="normal" fill="#1a1a1a">Playback, 51 units</text>
<text x="1249.8" y="1165" font-size="26" text-anchor="middle" font-weight="normal" fill="#1a1a1a" transform="rotate(-90 1249.8 1165)">Firing rate (Hz)</text>
<text x="1435.4" y="1375" font-size="25" text-anchor="middle" font-weight="normal" fill="#1a1a1a">Cursor position</text>
</svg></body></html>
